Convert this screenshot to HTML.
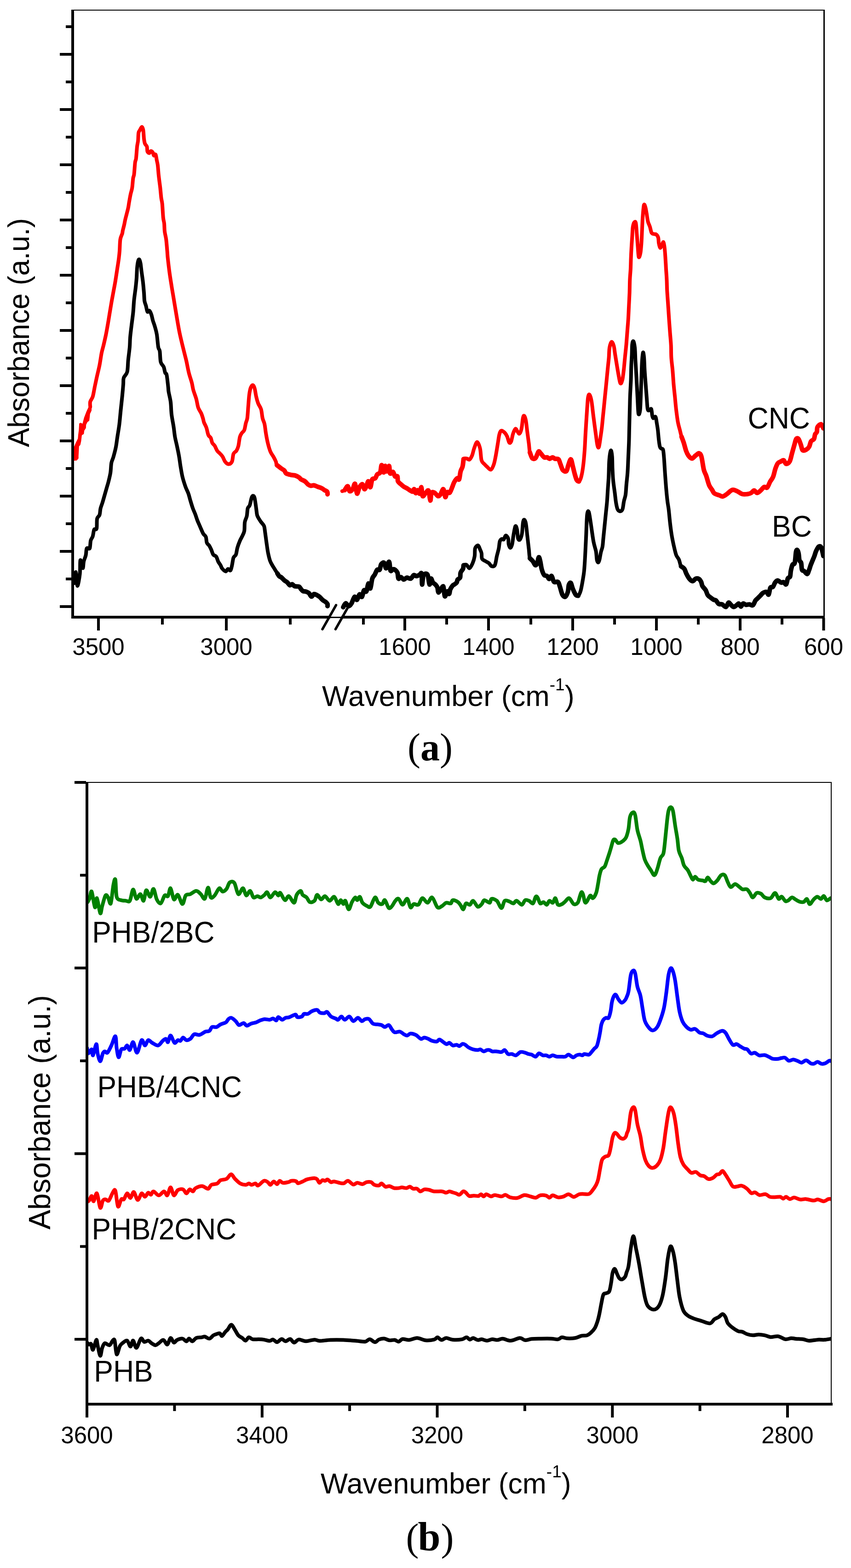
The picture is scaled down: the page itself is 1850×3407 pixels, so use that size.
<!DOCTYPE html><html><head><meta charset="utf-8"><title>FTIR spectra</title>
<style>html,body{margin:0;padding:0;background:#fff;}svg{display:block;}text{font-family:"Liberation Sans",Arial,sans-serif;fill:#000;}.cap{font-family:"Liberation Serif","Times New Roman",serif;}</style></head><body>
<svg width="1850" height="3407" viewBox="0 0 1850 3407">
<rect x="0" y="0" width="1850" height="3407" fill="#fff"/>
<defs><clipPath id="ca"><rect x="158" y="0" width="1633" height="1700"/></clipPath><clipPath id="cb"><rect x="189" y="1690" width="1618" height="1400"/></clipPath></defs>
<g clip-path="url(#ca)">
<polygon fill="#ff0000" points="192.2,885.0 187.9,894.3 182.9,907.2 179.3,920.7 175.7,918.6 172.2,920.0 171.4,934.3 170.0,945.0 169.3,952.9 165.0,961.5 160.0,972.9 157.9,985.0 157.9,999.0 161.0,1001.0 167.0,1000.5 170.7,996.0 170.7,990.8 171.4,978.6 171.8,970.0 174.7,966.5 176.4,958.6 177.9,945.8 182.2,942.9 183.2,935.8 186.8,930.0 187.2,922.9 190.0,917.2 194.0,914.3 195.0,906.4 195.7,899.3 199.0,892.2 199.3,883.6"/>
<path d="M196.2 884.0C196.2 882.1 195.2 876.5 196.1 872.9C197.0 869.3 200.1 866.5 201.5 862.2C202.9 857.9 203.9 851.2 204.7 847.2C205.5 843.2 205.4 843.1 206.5 838.0C207.6 832.9 209.4 824.1 211.1 816.6C212.8 809.1 214.9 801.2 216.5 793.0C218.1 784.8 219.4 774.4 220.8 767.3C222.2 760.2 223.5 757.0 225.1 750.2C226.7 743.4 228.8 734.5 230.4 726.6C232.0 718.7 233.4 710.1 234.7 703.0C235.9 695.9 236.7 691.2 237.9 683.7C239.2 676.2 240.8 666.1 242.2 657.9C243.6 649.7 245.1 642.2 246.5 634.4C247.9 626.5 249.4 619.4 250.8 610.8C252.2 602.2 253.8 591.1 255.1 582.9C256.4 574.7 257.5 567.7 258.3 561.4C259.1 555.1 259.5 551.9 260.0 545.0C260.5 538.1 260.5 526.5 261.5 520.2C262.5 513.9 264.9 510.5 265.8 507.3C266.7 504.1 266.2 504.1 266.9 500.9C267.6 497.7 269.2 491.9 270.1 488.0C271.0 484.1 271.3 481.2 272.2 477.3C273.1 473.4 274.4 468.8 275.5 464.5C276.6 460.2 277.8 455.9 278.7 451.6C279.6 447.3 279.9 443.7 280.8 438.7C281.7 433.7 282.9 426.6 284.0 421.6C285.1 416.6 286.3 414.4 287.2 408.7C288.1 403.0 288.7 392.3 289.4 387.3C290.1 382.3 290.8 384.4 291.5 378.7C292.2 373.0 293.0 358.6 293.7 352.9C294.4 347.2 295.1 350.1 295.8 344.4C296.5 338.7 297.3 325.0 298.0 318.6C298.7 312.2 299.6 310.8 300.1 305.8C300.6 300.8 300.5 292.5 301.2 288.6C301.9 284.7 303.2 284.4 304.4 282.2C305.6 280.0 307.1 275.7 308.3 275.7C309.5 275.7 310.5 277.9 311.3 282.2C312.1 286.5 312.4 296.5 313.0 301.5C313.6 306.5 314.0 309.3 315.1 312.2C316.2 315.1 318.5 315.8 319.4 318.6C320.3 321.5 319.6 327.0 320.5 329.3C321.4 331.6 323.6 332.8 324.8 332.6C326.1 332.4 326.8 328.5 328.0 328.3C329.2 328.1 331.2 329.9 332.3 331.5C333.4 333.1 333.4 337.2 334.4 337.9C335.4 338.6 337.2 334.0 338.3 335.8C339.4 337.6 340.1 344.7 340.9 348.6C341.7 352.5 342.4 354.4 343.0 359.4C343.6 364.4 344.2 373.3 344.7 378.7C345.2 384.1 345.6 386.5 346.2 391.5C346.8 396.5 347.7 402.3 348.4 408.7C349.1 415.1 349.8 424.4 350.5 430.1C351.2 435.8 352.0 435.9 352.7 443.0C353.4 450.1 354.1 465.9 354.8 473.0C355.5 480.1 356.5 480.9 357.0 485.9C357.5 490.9 357.3 497.4 358.0 503.1C358.7 508.8 360.3 513.2 361.2 520.2C362.1 527.2 362.9 538.1 363.5 545.0C364.1 551.9 363.9 553.3 364.8 561.4C365.7 569.5 367.3 583.6 368.7 593.6C370.1 603.6 371.6 612.6 373.0 621.5C374.4 630.4 375.9 638.6 377.3 647.2C378.7 655.8 380.2 664.4 381.6 673.0C383.0 681.6 384.5 690.5 385.9 698.7C387.3 706.9 388.6 714.4 390.2 722.3C391.8 730.2 393.8 738.4 395.6 745.9C397.4 753.4 399.3 760.9 400.9 767.3C402.5 773.7 403.6 777.4 405.2 784.5C406.8 791.6 408.6 802.3 410.6 810.2C412.6 818.1 415.4 825.5 417.0 831.7C418.6 837.9 418.6 841.4 420.2 847.2C421.8 853.0 424.8 860.1 426.6 866.5C428.4 872.9 429.1 880.5 430.9 885.8C432.7 891.0 435.6 894.0 437.4 898.0C439.2 902.0 440.5 906.7 441.5 910.0C442.5 913.3 442.3 914.8 443.5 918.0C444.7 921.2 447.0 924.5 448.6 929.0C450.2 933.5 451.3 941.3 452.9 945.1C454.5 948.9 456.8 948.7 458.2 951.6C459.6 954.5 460.0 959.4 461.4 962.3C462.8 965.1 465.0 965.9 466.8 968.7C468.6 971.6 470.2 976.5 472.2 979.4C474.2 982.3 476.6 983.8 478.6 985.9C480.6 988.0 482.2 989.4 484.0 992.3C485.8 995.1 487.2 1000.3 489.3 1003.0C491.4 1005.7 494.3 1008.4 496.8 1008.4C499.3 1008.4 502.5 1006.8 504.3 1003.0C506.1 999.2 506.0 989.8 507.6 985.9C509.2 982.0 512.2 982.3 514.0 979.4C515.8 976.5 517.0 973.7 518.3 968.7C519.5 963.7 520.2 954.0 521.5 949.4C522.8 944.8 524.2 943.3 525.8 940.8C527.4 938.3 529.7 938.0 531.1 934.4C532.5 930.8 533.3 923.7 534.4 919.4C535.5 915.1 536.7 914.8 537.6 908.7C538.5 902.6 539.0 891.5 539.7 882.9C540.4 874.3 541.0 864.0 541.9 857.2C542.8 850.4 543.8 845.6 545.1 842.2C546.5 838.8 548.6 836.4 550.0 836.8C551.4 837.1 552.6 840.2 553.7 844.3C554.9 848.4 555.6 856.1 556.9 861.5C558.1 866.9 559.4 871.9 561.2 876.5C563.0 881.1 566.0 884.0 567.6 889.4C569.2 894.8 569.5 903.4 570.8 908.7C572.0 914.1 573.9 915.8 575.1 921.5C576.4 927.2 577.0 935.9 578.3 943.0C579.5 950.1 581.0 958.0 582.6 964.4C584.2 970.8 586.0 977.0 588.0 981.6C590.0 986.2 592.4 988.7 594.4 992.3C596.4 995.9 598.5 1000.0 599.8 1003.0C601.0 1006.0 599.9 1008.0 601.9 1010.5C603.9 1013.0 608.9 1016.0 611.6 1018.0C614.3 1020.0 616.2 1020.5 618.0 1022.3C619.8 1024.1 619.8 1027.2 622.3 1028.8C624.8 1030.4 629.8 1031.3 633.0 1032.0C636.2 1032.7 638.7 1032.2 641.6 1033.1C644.5 1034.0 648.1 1035.9 650.2 1037.3C652.4 1038.7 652.4 1040.2 654.5 1041.6C656.6 1043.0 660.5 1044.1 663.0 1045.9C665.5 1047.7 667.4 1050.8 669.5 1052.4C671.6 1054.0 673.8 1055.2 675.9 1055.6C678.0 1055.9 679.8 1054.2 682.3 1054.5C684.8 1054.8 688.0 1056.6 690.9 1057.7C693.8 1058.8 697.0 1059.7 699.5 1060.9C702.0 1062.2 703.9 1064.0 705.9 1065.2C707.9 1066.5 710.3 1066.9 711.3 1068.4C712.3 1069.9 711.9 1073.1 712.0 1074.0" fill="none" stroke="#ff0000" stroke-width="8" stroke-linejoin="round" stroke-linecap="round"/>
<path d="M743.9 1067.2C744.8 1066.8 747.3 1066.9 749.3 1065.1C751.3 1063.3 753.9 1056.2 755.7 1056.5C757.5 1056.8 758.2 1066.1 760.0 1067.2C761.8 1068.3 764.5 1065.6 766.5 1062.9C768.5 1060.2 770.2 1049.5 771.8 1051.1C773.4 1052.7 774.5 1071.3 776.1 1072.6C777.7 1073.8 779.5 1062.0 781.5 1058.6C783.5 1055.2 786.1 1051.5 787.9 1052.2C789.7 1052.9 790.8 1062.2 792.2 1062.9C793.6 1063.6 795.1 1059.3 796.5 1056.5C797.9 1053.7 799.4 1045.5 800.8 1045.8C802.2 1046.1 803.7 1059.3 805.1 1058.6C806.5 1057.9 807.5 1044.7 809.3 1041.5C811.1 1038.3 814.0 1041.1 815.8 1039.3C817.6 1037.5 818.3 1032.9 820.1 1030.8C821.9 1028.7 824.9 1029.9 826.5 1026.5C828.1 1023.1 828.5 1010.4 829.7 1010.4C831.0 1010.4 832.8 1026.2 834.0 1026.5C835.2 1026.8 836.1 1012.9 837.2 1012.5C838.3 1012.1 839.0 1024.3 840.4 1024.3C841.8 1024.3 844.5 1011.8 845.8 1012.5C847.1 1013.2 846.6 1026.4 848.0 1028.6C849.4 1030.8 852.6 1024.3 854.4 1025.4C856.2 1026.5 857.1 1033.5 858.7 1035.1C860.3 1036.7 862.9 1033.3 864.0 1035.1C865.1 1036.9 863.9 1042.9 865.1 1045.8C866.4 1048.7 869.4 1050.2 871.5 1052.2C873.6 1054.2 875.9 1056.2 878.0 1057.6C880.1 1059.0 882.3 1059.5 884.4 1060.8C886.5 1062.0 888.6 1063.8 890.8 1065.1C892.9 1066.3 895.7 1068.7 897.3 1068.3C898.9 1067.9 899.4 1062.4 900.5 1062.9C901.6 1063.4 902.5 1071.1 903.7 1071.5C905.0 1071.9 906.6 1064.9 908.0 1065.1C909.4 1065.3 910.9 1073.7 912.3 1072.6C913.6 1071.5 915.0 1057.7 916.1 1058.6C917.2 1059.5 917.2 1075.8 918.7 1077.9C920.2 1080.1 923.1 1073.5 925.2 1071.5C927.4 1069.5 929.9 1063.5 931.6 1066.2C933.3 1068.9 934.3 1086.7 935.4 1087.6C936.5 1088.5 936.5 1074.4 938.0 1071.5C939.5 1068.6 942.2 1069.3 944.5 1070.4C946.8 1071.5 949.9 1077.2 952.0 1077.9C954.1 1078.6 955.3 1077.2 957.3 1074.7C959.3 1072.2 962.0 1062.0 963.8 1062.9C965.6 1063.8 966.6 1079.0 968.0 1080.1C969.4 1081.2 970.7 1071.0 972.3 1069.4C973.9 1067.8 975.9 1072.2 977.7 1070.4C979.5 1068.6 981.5 1062.3 983.1 1058.6C984.7 1054.8 985.5 1051.1 987.3 1047.9C989.1 1044.7 992.0 1040.4 993.8 1039.3C995.6 1038.2 996.9 1044.0 998.1 1041.5C999.4 1039.0 1000.0 1029.0 1001.3 1024.3C1002.5 1019.6 1004.5 1018.1 1005.6 1013.6C1006.7 1009.1 1006.1 1000.4 1007.7 997.5C1009.3 994.6 1013.1 996.3 1015.2 996.5C1017.4 996.7 1018.7 999.8 1020.6 998.6C1022.5 997.4 1024.7 993.4 1026.4 989.4C1028.1 985.4 1028.9 979.2 1030.7 974.4C1032.5 969.6 1035.1 960.4 1037.2 960.4C1039.3 960.4 1042.0 967.8 1043.6 974.4C1045.2 981.0 1045.2 994.4 1046.8 1000.1C1048.4 1005.8 1051.0 1006.2 1053.2 1008.7C1055.4 1011.2 1057.4 1013.1 1059.7 1015.1C1062.0 1017.1 1064.9 1021.6 1067.2 1020.5C1069.5 1019.4 1071.8 1013.9 1073.6 1008.7C1075.4 1003.5 1076.5 996.9 1077.9 989.4C1079.3 981.9 1081.0 971.2 1082.2 963.7C1083.5 956.2 1084.2 949.0 1085.4 944.4C1086.7 939.8 1087.7 936.5 1089.7 935.8C1091.7 935.1 1095.1 938.0 1097.2 940.1C1099.3 942.2 1101.0 945.0 1102.6 948.6C1104.2 952.2 1105.5 959.7 1106.9 961.5C1108.3 963.3 1109.7 962.6 1111.1 959.4C1112.5 956.2 1113.8 946.9 1115.4 942.2C1117.0 937.6 1119.2 932.2 1120.8 931.5C1122.4 930.8 1123.7 936.1 1125.1 937.9C1126.5 939.7 1128.0 943.3 1129.4 942.2C1130.8 941.1 1132.5 937.2 1133.7 931.5C1135.0 925.8 1135.9 912.5 1136.9 907.9C1137.9 903.2 1138.6 902.5 1139.7 903.6C1140.8 904.7 1142.2 908.2 1143.3 914.3C1144.4 920.4 1145.4 931.9 1146.5 940.1C1147.6 948.3 1148.8 956.6 1149.7 963.7C1150.6 970.9 1150.7 977.6 1151.9 983.0C1153.2 988.4 1155.2 993.7 1157.2 995.8C1159.2 997.9 1161.9 997.2 1163.7 995.8C1165.5 994.4 1166.8 989.7 1168.0 987.2C1169.2 984.7 1170.0 981.1 1171.2 980.8C1172.5 980.4 1173.5 983.0 1175.5 985.1C1177.5 987.2 1180.7 992.3 1183.0 993.7C1185.3 995.1 1187.4 993.2 1189.4 993.7C1191.4 994.2 1192.8 996.9 1194.8 996.9C1196.8 996.9 1199.2 993.7 1201.2 993.7C1203.2 993.7 1204.4 996.2 1206.6 996.9C1208.8 997.6 1212.1 996.0 1214.1 998.0C1216.1 1000.0 1216.8 1004.8 1218.4 1008.7C1220.0 1012.6 1221.6 1019.1 1223.7 1021.6C1225.8 1024.1 1229.2 1025.5 1231.2 1023.7C1233.2 1021.9 1233.9 1015.1 1235.5 1010.8C1237.1 1006.5 1239.3 997.6 1240.9 998.0C1242.5 998.4 1243.8 1007.6 1245.2 1013.0C1246.6 1018.4 1248.1 1025.1 1249.5 1030.1C1250.9 1035.1 1252.3 1040.3 1253.8 1043.0C1255.3 1045.7 1256.9 1047.3 1258.5 1046.2C1260.1 1045.1 1261.9 1042.1 1263.4 1036.6C1264.9 1031.1 1266.5 1022.6 1267.7 1013.0C1269.0 1003.4 1270.0 990.9 1270.9 978.7C1271.8 966.6 1272.1 955.1 1273.0 940.1C1273.9 925.1 1275.4 901.5 1276.3 888.6C1277.2 875.7 1277.5 868.1 1278.4 862.9C1279.3 857.7 1280.3 856.1 1281.6 857.5C1282.8 858.9 1284.5 863.4 1285.9 871.4C1287.3 879.4 1288.6 893.3 1290.2 905.8C1291.8 918.3 1294.2 936.1 1295.6 946.5C1297.0 956.9 1297.7 963.8 1298.8 967.9C1299.9 972.0 1300.8 974.4 1302.0 971.2C1303.2 968.0 1304.6 956.0 1305.7 948.7C1306.8 941.4 1307.8 934.4 1308.6 927.3C1309.4 920.1 1310.0 912.9 1310.7 905.8C1311.4 898.6 1312.2 891.5 1312.9 884.4C1313.6 877.3 1314.3 870.1 1315.0 863.0C1315.7 855.9 1316.5 848.6 1317.2 841.5C1317.9 834.4 1318.6 827.2 1319.3 820.1C1320.0 813.0 1320.7 805.8 1321.4 798.6C1322.1 791.5 1323.0 784.4 1323.6 777.2C1324.2 770.1 1324.0 761.4 1325.0 755.7C1326.0 750.0 1327.8 743.6 1329.3 742.9C1330.8 742.2 1333.0 747.0 1334.3 751.5C1335.6 756.0 1336.1 763.3 1337.2 770.0C1338.3 776.7 1339.5 784.4 1340.7 791.5C1341.9 798.6 1343.0 806.0 1344.3 812.9C1345.6 819.8 1347.2 830.8 1348.6 832.9C1350.0 835.0 1351.7 830.3 1352.9 825.8C1354.1 821.3 1354.8 813.9 1355.8 805.8C1356.8 797.7 1357.6 786.7 1358.6 777.2C1359.5 767.7 1360.7 757.9 1361.5 748.6C1362.3 739.3 1362.9 730.9 1363.6 721.6C1364.3 712.3 1365.2 702.5 1365.8 693.0C1366.4 683.5 1366.7 673.9 1367.2 664.4C1367.7 654.9 1368.2 645.3 1368.6 635.8C1368.9 626.3 1368.9 615.6 1369.3 607.3C1369.7 599.0 1370.4 592.9 1370.8 585.8C1371.2 578.6 1371.2 572.7 1371.5 564.4C1371.8 556.1 1372.4 544.1 1372.9 535.8C1373.4 527.4 1373.8 521.4 1374.3 514.3C1374.8 507.1 1375.0 498.1 1375.8 492.9C1376.6 487.7 1377.9 484.4 1379.0 483.0C1380.1 481.6 1381.3 480.3 1382.2 484.3C1383.1 488.3 1383.6 498.6 1384.3 507.2C1385.0 515.8 1385.8 527.2 1386.5 535.8C1387.2 544.4 1387.6 556.2 1388.6 558.6C1389.5 561.0 1391.2 555.1 1392.2 550.1C1393.2 545.1 1393.8 537.0 1394.4 528.6C1395.0 520.2 1395.3 509.5 1395.8 500.0C1396.3 490.5 1396.5 480.5 1397.2 471.4C1397.9 462.3 1398.8 449.1 1399.8 445.5C1400.8 441.9 1402.0 446.9 1403.0 450.0C1404.0 453.1 1404.9 459.1 1405.8 464.3C1406.7 469.6 1407.4 476.7 1408.6 481.5C1409.8 486.3 1411.6 488.8 1412.9 492.9C1414.2 496.9 1415.1 503.2 1416.5 505.8C1417.9 508.4 1419.8 508.0 1421.5 508.6C1423.2 509.2 1425.0 508.1 1426.5 509.3C1428.0 510.5 1429.8 512.6 1430.8 515.8C1431.8 519.0 1431.5 524.8 1432.2 528.6C1432.9 532.4 1434.0 537.9 1435.1 538.6C1436.2 539.3 1437.5 535.0 1438.7 532.9C1439.9 530.8 1441.2 525.3 1442.2 525.8C1443.2 526.3 1443.8 531.8 1444.4 535.8C1445.0 539.8 1445.3 544.1 1445.8 550.1C1446.3 556.1 1446.8 565.5 1447.2 571.5C1447.6 577.5 1447.6 579.8 1448.0 585.8C1448.4 591.8 1449.1 600.1 1449.4 607.3C1449.8 614.4 1449.8 621.6 1450.1 628.7C1450.4 635.8 1451.0 643.0 1451.5 650.1C1452.0 657.2 1452.5 664.5 1453.0 671.6C1453.5 678.8 1453.8 684.7 1454.4 693.0C1455.0 701.3 1455.8 712.1 1456.5 721.6C1457.2 731.1 1458.2 740.6 1458.7 749.9C1459.2 759.2 1458.8 767.9 1459.4 777.2C1460.0 786.5 1461.5 796.3 1462.3 805.8C1463.1 815.3 1463.6 824.9 1464.4 834.4C1465.2 843.9 1466.3 853.5 1467.3 863.0C1468.2 872.5 1469.0 882.5 1470.1 891.5C1471.2 900.5 1472.4 910.1 1473.7 917.3C1475.0 924.4 1476.7 929.2 1478.0 934.4C1479.3 939.6 1480.2 944.2 1481.6 948.7C1483.0 953.2 1484.6 956.5 1486.3 961.6C1488.0 966.8 1489.8 974.9 1491.5 979.6C1493.2 984.3 1494.5 987.1 1496.6 989.9C1498.7 992.7 1501.7 996.3 1504.3 996.3C1506.9 996.3 1509.5 991.8 1512.1 989.9C1514.7 988.0 1517.7 984.4 1519.8 984.8C1521.9 985.2 1523.2 986.5 1524.9 992.5C1526.6 998.5 1528.4 1013.9 1530.1 1020.8C1531.8 1027.6 1533.3 1028.0 1535.2 1033.6C1537.1 1039.2 1539.4 1049.0 1541.6 1054.2C1543.8 1059.4 1546.2 1061.5 1548.1 1064.5C1550.0 1067.5 1550.6 1070.4 1553.2 1072.3C1555.8 1074.2 1560.5 1075.0 1563.5 1076.1C1566.5 1077.2 1568.4 1079.1 1571.2 1078.7C1574.0 1078.3 1576.8 1075.9 1580.2 1073.5C1583.6 1071.1 1588.2 1065.6 1591.8 1064.5C1595.4 1063.4 1598.4 1065.6 1602.1 1067.1C1605.8 1068.6 1609.8 1072.4 1613.7 1073.5C1617.6 1074.6 1622.1 1073.9 1625.3 1073.5C1628.5 1073.1 1630.7 1072.3 1633.0 1071.0C1635.3 1069.7 1637.2 1065.8 1639.4 1065.8C1641.6 1065.8 1643.5 1071.0 1645.9 1071.0C1648.3 1071.0 1651.0 1068.0 1653.6 1065.8C1656.2 1063.6 1658.9 1059.2 1661.3 1058.1C1663.7 1057.0 1665.5 1061.3 1667.7 1059.4C1669.9 1057.5 1672.1 1050.4 1674.2 1046.5C1676.3 1042.6 1678.7 1040.9 1680.6 1036.2C1682.5 1031.5 1684.0 1023.1 1685.7 1018.2C1687.4 1013.3 1689.0 1009.2 1690.9 1006.6C1692.8 1004.0 1695.2 1003.9 1697.3 1002.8C1699.4 1001.7 1701.9 999.4 1703.8 1000.2C1705.7 1001.1 1706.8 1007.5 1708.9 1007.9C1711.0 1008.3 1714.4 1006.6 1716.6 1002.8C1718.8 998.9 1720.1 990.8 1721.8 984.8C1723.5 978.8 1725.4 971.9 1726.9 966.7C1728.4 961.6 1729.3 956.0 1730.8 953.9C1732.3 951.8 1734.2 951.8 1735.9 953.9C1737.6 956.0 1739.6 962.6 1741.1 966.7C1742.6 970.8 1743.0 976.6 1744.9 978.3C1746.8 980.0 1750.2 978.3 1752.6 977.0C1755.0 975.7 1757.4 973.6 1759.1 970.6C1760.8 967.6 1761.3 961.8 1763.0 959.0C1764.7 956.2 1767.9 956.5 1769.4 953.9C1770.9 951.3 1770.9 946.2 1772.0 943.6C1773.1 941.0 1775.0 941.0 1775.8 938.4C1776.6 935.8 1775.6 930.9 1777.1 928.1C1778.6 925.3 1782.6 921.3 1784.8 921.7C1787.0 922.1 1789.1 929.2 1790.0 930.7" fill="none" stroke="#ff0000" stroke-width="8" stroke-linejoin="round" stroke-linecap="round"/>
<path d="M159.6 1258.0C160.0 1259.4 160.9 1269.1 161.8 1266.6C162.7 1264.1 163.9 1241.9 165.0 1243.0C166.1 1244.1 166.8 1272.3 168.2 1273.0C169.6 1273.7 172.5 1256.6 173.6 1247.3C174.7 1238.0 173.6 1219.3 174.7 1217.2C175.8 1215.1 178.8 1234.0 180.0 1234.4C181.2 1234.8 181.1 1224.1 182.2 1219.4C183.3 1214.8 185.4 1211.2 186.5 1206.5C187.6 1201.8 187.2 1194.0 188.6 1191.5C190.0 1189.0 193.6 1194.3 195.0 1191.5C196.4 1188.7 196.1 1178.7 197.2 1174.4C198.3 1170.1 200.2 1169.7 201.5 1165.8C202.8 1161.9 203.3 1153.7 204.7 1150.8C206.1 1147.9 208.9 1152.5 210.0 1148.6C211.1 1144.7 210.0 1132.2 211.1 1127.2C212.2 1122.2 215.2 1122.4 216.5 1118.6C217.8 1114.8 217.5 1109.0 218.6 1104.5C219.7 1100.0 221.5 1096.2 222.9 1091.6C224.3 1086.9 225.8 1081.6 227.2 1076.6C228.6 1071.6 230.1 1066.6 231.5 1061.6C232.9 1056.6 234.4 1052.3 235.8 1046.6C237.2 1040.9 239.0 1034.1 240.1 1027.3C241.2 1020.5 241.1 1011.5 242.2 1005.8C243.3 1000.1 244.9 998.7 246.5 993.0C248.1 987.3 250.5 978.6 251.9 971.5C253.3 964.4 253.8 958.3 255.1 950.1C256.3 941.9 258.1 932.2 259.4 922.2C260.6 912.2 261.5 900.4 262.6 890.0C263.7 879.6 264.9 869.2 265.8 860.0C266.7 850.8 267.5 841.5 268.0 835.0C268.5 828.5 267.6 825.4 269.0 820.9C270.4 816.4 274.9 814.5 276.5 808.1C278.1 801.7 277.8 791.2 278.7 782.3C279.6 773.4 281.2 762.7 281.9 754.5C282.6 746.3 282.3 741.2 283.0 733.0C283.7 724.8 285.1 714.0 286.2 705.1C287.3 696.2 288.5 688.3 289.4 679.4C290.3 670.5 290.6 660.4 291.5 651.5C292.4 642.6 293.9 633.7 294.8 625.8C295.7 617.9 296.4 611.4 296.9 604.3C297.4 597.1 297.5 589.0 298.0 582.9C298.5 576.8 299.3 571.1 300.1 567.9C300.9 564.7 301.8 562.9 302.7 563.6C303.6 564.3 304.7 567.9 305.5 572.2C306.3 576.5 306.7 582.5 307.6 589.3C308.5 596.1 309.9 605.0 310.8 612.9C311.7 620.8 312.4 629.7 313.0 636.5C313.6 643.3 313.4 649.1 314.1 653.7C314.8 658.4 316.2 660.5 317.3 664.4C318.4 668.3 319.2 675.5 320.5 677.3C321.8 679.1 323.4 674.0 324.8 675.1C326.2 676.2 327.9 680.1 329.1 683.7C330.4 687.3 331.1 692.2 332.3 696.5C333.6 700.8 335.2 704.4 336.6 709.4C338.0 714.4 339.6 719.1 340.9 726.6C342.1 734.1 343.0 748.4 344.1 754.5C345.2 760.6 346.4 757.6 347.3 763.0C348.2 768.4 348.0 780.9 349.4 786.6C350.8 792.3 354.3 793.4 355.9 797.3C357.5 801.2 358.0 807.3 359.1 810.2C360.2 813.1 361.2 809.5 362.3 814.5C363.4 819.5 364.8 833.9 365.5 840.0C366.2 846.1 365.7 845.9 366.6 851.4C367.5 856.9 369.8 864.7 370.9 872.9C372.0 881.1 371.9 891.9 373.0 900.8C374.1 909.7 376.1 918.3 377.3 926.5C378.6 934.7 379.2 943.0 380.5 950.1C381.8 957.2 383.4 962.6 384.8 969.4C386.2 976.2 387.9 983.6 389.1 990.8C390.4 997.9 391.1 1004.8 392.3 1012.3C393.6 1019.8 394.8 1028.4 396.6 1035.9C398.4 1043.4 401.0 1051.2 403.1 1057.3C405.2 1063.4 407.7 1067.3 409.5 1072.3C411.3 1077.3 412.2 1081.9 413.8 1087.3C415.4 1092.7 417.4 1099.5 419.2 1104.5C421.0 1109.5 422.9 1113.2 424.5 1117.4C426.1 1121.7 427.4 1126.2 428.8 1130.0C430.2 1133.8 431.7 1136.7 433.1 1140.0C434.5 1143.3 435.9 1146.7 437.4 1150.0C438.9 1153.3 440.4 1157.3 442.1 1160.1C443.8 1162.8 446.2 1163.3 447.5 1166.5C448.8 1169.7 448.4 1176.2 449.7 1179.4C450.9 1182.6 453.4 1183.3 455.0 1185.8C456.6 1188.3 457.9 1191.2 459.3 1194.4C460.7 1197.6 461.8 1202.6 463.6 1205.1C465.4 1207.6 468.2 1206.9 470.0 1209.4C471.8 1211.9 472.7 1216.9 474.3 1220.1C475.9 1223.3 478.3 1226.2 479.7 1228.7C481.1 1231.2 481.1 1233.1 482.9 1235.2C484.7 1237.3 488.2 1241.4 490.4 1241.6C492.5 1241.8 494.0 1236.6 495.8 1236.2C497.6 1235.8 499.7 1240.7 501.1 1239.4C502.5 1238.2 503.2 1233.3 504.3 1228.7C505.4 1224.1 506.2 1215.5 507.6 1211.6C509.0 1207.7 511.5 1208.7 512.9 1205.1C514.3 1201.5 514.7 1195.1 516.1 1190.1C517.5 1185.1 519.7 1179.4 521.5 1175.1C523.3 1170.8 525.3 1168.0 526.9 1164.4C528.5 1160.8 530.2 1158.7 531.1 1153.7C532.0 1148.7 531.3 1139.8 532.2 1134.4C533.1 1129.0 535.4 1126.5 536.5 1121.5C537.6 1116.5 537.5 1108.2 538.6 1104.3C539.7 1100.4 541.5 1101.8 542.9 1097.9C544.3 1094.0 545.8 1084.1 547.2 1080.7C548.6 1077.3 550.0 1077.1 551.1 1077.5C552.2 1077.9 552.7 1078.4 553.7 1082.9C554.7 1087.4 556.0 1098.2 556.9 1104.3C557.8 1110.4 557.9 1115.4 559.0 1119.3C560.1 1123.2 561.9 1125.4 563.3 1127.9C564.7 1130.4 565.8 1131.9 567.6 1134.4C569.4 1136.9 572.6 1139.3 574.0 1142.9C575.4 1146.5 575.3 1149.7 576.2 1155.8C577.1 1161.9 578.3 1171.9 579.4 1179.4C580.5 1186.9 581.4 1194.4 582.6 1200.8C583.9 1207.2 585.3 1213.3 586.9 1218.0C588.5 1222.7 590.5 1225.5 592.3 1228.7C594.1 1231.9 595.8 1234.4 597.6 1237.3C599.4 1240.2 601.4 1243.4 603.0 1245.9C604.6 1248.4 605.9 1250.9 607.3 1252.3C608.7 1253.7 609.8 1253.1 611.6 1254.5C613.4 1255.9 615.9 1259.1 618.0 1260.9C620.1 1262.7 622.4 1263.4 624.4 1265.2C626.4 1267.0 628.0 1270.9 629.8 1271.6C631.6 1272.3 633.4 1269.1 635.2 1269.5C637.0 1269.9 638.0 1272.9 640.5 1273.8C643.0 1274.7 647.9 1273.7 650.2 1274.8C652.5 1275.9 653.1 1278.6 654.5 1280.2C655.9 1281.8 656.9 1283.6 658.7 1284.5C660.5 1285.4 663.1 1284.8 665.2 1285.5C667.4 1286.2 669.6 1287.0 671.6 1288.8C673.6 1290.6 675.2 1295.9 677.0 1296.3C678.8 1296.7 680.3 1291.5 682.3 1290.9C684.3 1290.4 686.6 1291.9 688.8 1293.0C690.9 1294.1 693.1 1295.5 695.2 1297.3C697.3 1299.1 699.5 1302.0 701.6 1303.8C703.8 1305.6 706.4 1306.7 708.1 1308.1C709.8 1309.5 711.2 1310.9 711.9 1312.4C712.5 1313.9 712.0 1316.2 712.0 1317.0" fill="none" stroke="#000" stroke-width="8" stroke-linejoin="round" stroke-linecap="round"/>
<path d="M746.1 1319.4C747.0 1318.0 749.4 1311.2 751.4 1310.8C753.4 1310.4 755.8 1317.3 757.9 1317.3C760.0 1317.3 762.2 1314.2 764.3 1310.8C766.4 1307.4 768.7 1298.2 770.7 1296.9C772.7 1295.7 774.3 1304.2 776.1 1303.3C777.9 1302.4 779.7 1292.6 781.5 1291.5C783.3 1290.4 785.2 1298.3 786.8 1296.9C788.4 1295.5 789.5 1284.9 791.1 1282.9C792.7 1280.9 794.9 1287.6 796.5 1285.1C798.1 1282.6 799.4 1269.0 800.8 1267.9C802.2 1266.8 803.7 1280.4 805.1 1278.6C806.5 1276.8 807.7 1262.2 809.3 1257.2C810.9 1252.2 812.9 1251.8 814.7 1248.6C816.5 1245.4 818.3 1239.7 820.1 1237.9C821.9 1236.1 824.0 1239.9 825.4 1237.9C826.8 1235.9 827.0 1228.6 828.6 1226.1C830.2 1223.6 833.3 1221.5 835.1 1222.9C836.9 1224.3 837.6 1235.1 839.4 1234.7C841.2 1234.3 844.2 1219.8 845.8 1220.7C847.4 1221.6 847.6 1237.3 849.0 1240.0C850.4 1242.7 852.8 1237.1 854.4 1236.8C856.0 1236.5 857.1 1236.7 858.7 1237.9C860.3 1239.2 862.8 1241.1 864.0 1244.3C865.2 1247.5 865.0 1255.6 866.2 1257.2C867.5 1258.8 869.5 1253.7 871.5 1254.0C873.5 1254.3 875.9 1259.1 878.0 1259.3C880.1 1259.5 881.9 1255.4 884.4 1255.1C886.9 1254.8 890.5 1258.1 893.0 1257.2C895.5 1256.3 897.3 1250.6 899.4 1249.7C901.5 1248.8 903.6 1252.0 905.8 1251.8C907.9 1251.6 910.5 1249.5 912.3 1248.6C914.1 1247.7 915.7 1242.9 916.6 1246.5C917.5 1250.1 916.9 1269.6 917.6 1270.1C918.3 1270.6 918.9 1253.3 920.9 1249.7C922.9 1246.1 927.3 1245.2 929.4 1248.6C931.5 1252.0 932.4 1268.7 933.7 1270.1C935.0 1271.5 935.8 1257.9 937.0 1257.2C938.2 1256.5 939.6 1263.7 941.2 1265.8C942.8 1267.9 945.0 1268.3 946.6 1270.1C948.2 1271.9 949.8 1273.7 950.9 1276.5C952.0 1279.3 951.8 1286.5 953.0 1287.2C954.2 1287.9 956.6 1282.9 958.4 1280.8C960.2 1278.7 962.4 1271.9 963.8 1274.4C965.2 1276.9 965.6 1294.0 967.0 1295.8C968.4 1297.6 970.7 1286.0 972.3 1285.1C973.9 1284.2 975.5 1291.1 976.6 1290.4C977.7 1289.7 977.5 1283.8 978.8 1280.8C980.0 1277.8 982.7 1274.0 984.1 1272.2C985.5 1270.4 986.0 1271.2 987.4 1270.1C988.8 1269.0 991.5 1267.6 992.7 1265.8C994.0 1264.0 993.6 1261.1 994.9 1259.3C996.1 1257.5 999.1 1257.6 1000.2 1255.1C1001.3 1252.6 1000.2 1247.5 1001.3 1244.3C1002.4 1241.1 1005.5 1238.5 1006.6 1235.8C1007.7 1233.1 1006.4 1229.7 1007.7 1228.3C1009.0 1226.9 1012.1 1226.1 1014.2 1227.2C1016.4 1228.3 1018.4 1235.3 1020.6 1234.7C1022.8 1234.1 1025.6 1228.0 1027.5 1223.7C1029.4 1219.4 1030.9 1214.1 1031.8 1208.7C1032.7 1203.3 1031.7 1195.4 1032.9 1191.5C1034.2 1187.6 1037.5 1184.7 1039.3 1185.1C1041.1 1185.5 1042.3 1190.8 1043.6 1193.7C1044.8 1196.6 1046.1 1198.8 1046.8 1202.2C1047.5 1205.6 1046.5 1211.1 1047.9 1214.0C1049.3 1216.9 1052.9 1217.8 1055.4 1219.4C1057.9 1221.0 1060.8 1221.9 1062.9 1223.7C1065.1 1225.5 1066.2 1229.4 1068.3 1230.1C1070.4 1230.8 1073.8 1231.6 1075.8 1228.0C1077.8 1224.4 1078.6 1214.8 1080.0 1208.7C1081.4 1202.6 1083.2 1196.9 1084.3 1191.5C1085.4 1186.1 1085.4 1179.9 1086.5 1176.5C1087.6 1173.1 1089.4 1171.8 1090.8 1171.1C1092.2 1170.4 1093.7 1173.5 1095.1 1172.2C1096.5 1171.0 1097.7 1163.9 1099.3 1163.6C1100.9 1163.2 1103.6 1166.9 1104.7 1170.1C1105.8 1173.3 1105.0 1179.5 1105.8 1182.9C1106.6 1186.3 1108.3 1190.4 1109.6 1190.4C1110.8 1190.4 1112.1 1187.7 1113.3 1182.9C1114.5 1178.1 1115.3 1168.1 1116.5 1161.5C1117.7 1154.9 1119.2 1145.1 1120.4 1143.3C1121.7 1141.5 1123.0 1146.3 1124.0 1150.8C1125.0 1155.3 1125.1 1166.5 1126.2 1170.1C1127.3 1173.7 1129.0 1174.0 1130.4 1172.2C1131.8 1170.4 1133.6 1165.4 1134.7 1159.3C1135.8 1153.2 1136.1 1140.8 1136.9 1135.8C1137.7 1130.8 1138.6 1128.9 1139.7 1129.3C1140.8 1129.7 1142.2 1131.8 1143.3 1137.9C1144.4 1144.0 1145.4 1156.5 1146.5 1165.8C1147.6 1175.1 1148.8 1185.8 1149.7 1193.7C1150.6 1201.6 1150.5 1208.7 1151.9 1213.0C1153.3 1217.3 1156.3 1216.9 1158.3 1219.4C1160.3 1221.9 1162.1 1227.3 1163.7 1228.0C1165.3 1228.7 1166.8 1226.6 1168.0 1223.7C1169.2 1220.8 1170.1 1211.5 1171.2 1210.8C1172.3 1210.1 1173.3 1215.1 1174.4 1219.4C1175.5 1223.7 1176.2 1231.5 1177.6 1236.5C1179.0 1241.5 1181.0 1246.9 1183.0 1249.4C1185.0 1251.9 1187.6 1250.2 1189.4 1251.6C1191.2 1253.0 1192.1 1258.0 1193.7 1258.0C1195.3 1258.0 1197.3 1250.5 1199.1 1251.6C1200.9 1252.7 1202.1 1262.3 1204.4 1264.4C1206.7 1266.5 1210.8 1262.6 1213.0 1264.4C1215.2 1266.2 1215.7 1270.6 1217.3 1275.2C1218.9 1279.8 1220.7 1288.7 1222.7 1292.3C1224.7 1295.9 1227.1 1297.7 1229.1 1296.6C1231.1 1295.5 1233.2 1290.2 1234.5 1285.9C1235.8 1281.6 1235.5 1274.1 1236.6 1270.9C1237.7 1267.7 1239.5 1265.2 1240.9 1266.6C1242.3 1268.0 1243.4 1275.1 1245.2 1279.4C1247.0 1283.7 1249.6 1289.8 1251.6 1292.3C1253.6 1294.8 1255.2 1295.9 1257.0 1294.5C1258.8 1293.1 1260.7 1289.1 1262.3 1283.7C1263.9 1278.3 1265.3 1269.5 1266.6 1262.3C1267.8 1255.1 1268.9 1249.7 1269.8 1240.8C1270.7 1231.9 1271.3 1221.2 1272.0 1208.7C1272.7 1196.2 1273.4 1180.8 1274.1 1165.8C1274.8 1150.8 1275.3 1127.5 1276.3 1118.6C1277.3 1109.7 1278.7 1109.7 1279.9 1112.2C1281.2 1114.7 1282.1 1122.9 1283.8 1133.6C1285.5 1144.3 1288.2 1165.8 1290.2 1176.5C1292.2 1187.2 1294.3 1191.1 1295.6 1197.9C1296.8 1204.7 1296.8 1213.2 1297.7 1217.2C1298.6 1221.2 1299.8 1222.4 1300.8 1222.0C1301.8 1221.6 1302.6 1218.7 1303.5 1215.0C1304.4 1211.3 1305.2 1204.7 1306.3 1200.1C1307.3 1195.5 1308.9 1192.6 1309.8 1187.6C1310.7 1182.5 1310.8 1177.2 1311.6 1169.8C1312.3 1162.4 1313.4 1151.9 1314.3 1143.0C1315.2 1134.1 1316.1 1125.2 1317.0 1116.2C1317.9 1107.2 1319.0 1098.2 1319.7 1089.3C1320.4 1080.3 1320.8 1071.4 1321.4 1062.5C1322.0 1053.6 1322.7 1046.1 1323.2 1035.7C1323.7 1025.3 1323.7 1009.5 1324.5 1000.0C1325.3 990.5 1326.9 980.2 1327.9 978.8C1328.9 977.4 1330.1 985.1 1330.7 991.6C1331.3 998.1 1331.1 1009.0 1331.5 1017.9C1331.9 1026.8 1332.2 1035.8 1333.1 1044.7C1333.9 1053.6 1335.6 1063.5 1336.6 1071.5C1337.6 1079.5 1338.2 1087.0 1339.3 1092.9C1340.3 1098.9 1341.3 1104.2 1342.9 1107.2C1344.5 1110.2 1347.3 1111.1 1349.1 1110.8C1350.9 1110.5 1352.4 1109.0 1353.6 1105.4C1354.8 1101.8 1355.2 1094.3 1356.3 1089.3C1357.3 1084.2 1359.0 1081.0 1359.9 1075.1C1360.8 1069.1 1361.0 1061.6 1361.7 1053.6C1362.4 1045.5 1363.6 1036.6 1364.3 1026.8C1365.0 1017.0 1365.3 1005.6 1365.8 995.0C1366.3 984.4 1366.8 973.1 1367.2 963.0C1367.6 952.9 1367.7 943.9 1367.9 934.4C1368.1 924.9 1368.4 915.3 1368.6 905.8C1368.8 896.3 1369.1 885.6 1369.3 877.3C1369.5 869.0 1369.6 864.1 1370.0 855.8C1370.4 847.4 1371.1 836.7 1371.5 827.2C1371.9 817.7 1371.9 808.1 1372.2 798.6C1372.5 789.1 1373.2 778.3 1373.6 770.0C1373.9 761.7 1373.8 753.4 1374.3 748.6C1374.8 743.8 1375.9 740.2 1376.9 741.4C1377.9 742.6 1379.3 748.6 1380.1 755.7C1380.9 762.9 1380.9 773.6 1381.5 784.3C1382.1 795.0 1382.9 807.0 1383.6 820.1C1384.3 833.2 1385.1 849.9 1385.8 863.0C1386.5 876.1 1387.0 894.0 1387.9 898.7C1388.9 903.5 1390.7 897.5 1391.5 891.5C1392.3 885.5 1392.4 874.9 1392.9 863.0C1393.4 851.1 1393.9 833.2 1394.4 820.1C1394.9 807.0 1395.2 793.4 1395.8 784.3C1396.4 775.2 1397.2 766.9 1397.9 765.7C1398.6 764.5 1399.5 770.5 1400.1 777.2C1400.7 783.9 1400.9 796.3 1401.5 805.8C1402.1 815.3 1402.9 824.9 1403.6 834.4C1404.3 843.9 1405.1 854.0 1405.8 863.0C1406.5 872.0 1407.0 884.0 1407.9 888.7C1408.9 893.5 1410.2 891.5 1411.5 891.5C1412.8 891.5 1414.7 886.8 1415.8 888.7C1416.9 890.6 1417.2 899.7 1417.9 903.0C1418.6 906.3 1418.9 908.2 1420.1 908.7C1421.3 909.2 1423.8 903.9 1425.1 905.8C1426.4 907.7 1427.1 915.3 1427.9 920.1C1428.7 924.9 1429.4 928.4 1430.1 934.4C1430.8 940.4 1431.5 949.9 1432.2 955.9C1432.9 961.9 1433.6 967.1 1434.4 970.2C1435.2 973.3 1436.0 973.3 1437.2 974.5C1438.4 975.7 1440.5 973.9 1441.5 977.3C1442.5 980.7 1442.8 986.8 1443.5 995.0C1444.2 1003.2 1444.8 1015.5 1445.6 1026.8C1446.4 1038.0 1447.4 1052.1 1448.3 1062.5C1449.2 1072.9 1450.1 1081.8 1451.0 1089.3C1451.9 1096.8 1452.8 1099.8 1453.7 1107.2C1454.6 1114.7 1455.4 1125.1 1456.4 1134.0C1457.4 1142.9 1458.6 1152.5 1459.9 1160.8C1461.2 1169.1 1462.8 1176.6 1464.4 1184.1C1466.1 1191.5 1467.9 1200.2 1469.8 1205.5C1471.7 1210.8 1474.2 1212.0 1476.0 1216.2C1477.8 1220.4 1478.6 1227.2 1480.5 1230.5C1482.4 1233.8 1485.7 1233.2 1487.6 1235.9C1489.5 1238.6 1490.3 1243.0 1492.1 1246.6C1493.9 1250.2 1496.2 1254.6 1498.4 1257.3C1500.6 1260.0 1503.1 1262.7 1505.5 1262.7C1507.9 1262.7 1510.3 1258.0 1512.7 1257.3C1515.1 1256.5 1517.9 1257.0 1519.8 1258.2C1521.7 1259.4 1523.1 1262.0 1524.3 1264.5C1525.5 1267.0 1525.4 1270.4 1527.0 1273.4C1528.6 1276.4 1532.2 1279.0 1534.1 1282.3C1536.0 1285.6 1536.8 1290.4 1538.6 1293.1C1540.4 1295.8 1542.7 1296.8 1544.8 1298.4C1546.9 1300.1 1549.2 1301.9 1551.2 1303.0C1553.2 1304.1 1554.9 1303.4 1556.7 1304.9C1558.5 1306.5 1560.1 1310.9 1562.3 1312.3C1564.5 1313.7 1567.1 1312.1 1569.7 1313.2C1572.3 1314.3 1575.8 1319.4 1578.1 1318.8C1580.4 1318.2 1582.0 1310.4 1583.7 1309.5C1585.4 1308.6 1586.5 1311.7 1588.3 1313.2C1590.1 1314.8 1592.6 1318.5 1594.8 1318.8C1597.0 1319.1 1599.4 1316.3 1601.3 1315.1C1603.2 1313.9 1604.5 1310.9 1606.0 1311.4C1607.5 1311.9 1609.0 1317.9 1610.6 1317.9C1612.1 1317.9 1613.4 1312.0 1615.3 1311.4C1617.2 1310.8 1619.5 1313.9 1621.8 1314.2C1624.1 1314.5 1626.7 1313.1 1629.2 1313.2C1631.7 1313.3 1634.4 1316.5 1636.6 1315.1C1638.8 1313.7 1640.5 1307.4 1642.2 1304.9C1643.9 1302.4 1645.0 1302.1 1646.9 1300.2C1648.8 1298.3 1651.4 1295.7 1653.4 1293.7C1655.4 1291.7 1656.7 1289.3 1658.9 1288.1C1661.1 1286.9 1664.4 1285.7 1666.4 1286.3C1668.4 1286.9 1669.6 1293.5 1671.0 1291.9C1672.4 1290.4 1673.2 1279.8 1674.7 1277.0C1676.2 1274.2 1678.6 1277.0 1680.3 1275.1C1682.0 1273.2 1683.3 1268.1 1685.0 1265.8C1686.7 1263.5 1688.3 1261.2 1690.5 1261.2C1692.7 1261.2 1695.8 1265.2 1698.0 1265.8C1700.2 1266.4 1701.7 1264.3 1703.5 1264.9C1705.3 1265.5 1707.5 1271.0 1709.1 1269.6C1710.6 1268.2 1711.4 1259.3 1712.8 1256.5C1714.2 1253.7 1716.4 1255.6 1717.5 1252.8C1718.6 1250.0 1718.4 1244.1 1719.3 1239.8C1720.2 1235.5 1721.6 1229.6 1723.0 1226.8C1724.4 1224.0 1726.5 1227.8 1727.7 1223.1C1729.0 1218.4 1729.6 1203.6 1730.5 1198.9C1731.4 1194.2 1732.4 1194.6 1733.3 1195.2C1734.2 1195.8 1735.3 1199.0 1736.1 1202.7C1736.9 1206.4 1737.0 1214.1 1737.9 1217.5C1738.8 1220.9 1740.7 1219.7 1741.6 1223.1C1742.5 1226.5 1742.4 1235.0 1743.5 1238.0C1744.6 1241.0 1746.2 1239.2 1748.1 1240.8C1749.9 1242.3 1752.9 1247.5 1754.6 1247.3C1756.3 1247.1 1757.2 1242.9 1758.4 1239.8C1759.7 1236.7 1760.9 1232.1 1762.1 1228.7C1763.3 1225.3 1764.4 1222.8 1765.8 1219.4C1767.2 1216.0 1769.0 1211.9 1770.4 1208.2C1771.8 1204.5 1772.7 1200.5 1774.2 1197.1C1775.8 1193.7 1777.9 1189.0 1779.7 1187.8C1781.5 1186.5 1783.6 1186.2 1785.3 1189.6C1787.0 1193.0 1789.2 1205.1 1790.0 1208.2" fill="none" stroke="#000" stroke-width="8" stroke-linejoin="round" stroke-linecap="round"/>
<path d="M601.9 1010.5C603.5 1011.8 608.9 1016.0 611.6 1018.0C614.3 1020.0 616.2 1020.5 618.0 1022.3C619.8 1024.1 619.8 1027.2 622.3 1028.8C624.8 1030.4 629.8 1031.3 633.0 1032.0C636.2 1032.7 638.7 1032.2 641.6 1033.1C644.5 1034.0 648.1 1035.9 650.2 1037.3C652.4 1038.7 652.4 1040.2 654.5 1041.6C656.6 1043.0 660.5 1044.1 663.0 1045.9C665.5 1047.7 667.4 1050.8 669.5 1052.4C671.6 1054.0 673.8 1055.2 675.9 1055.6C678.0 1055.9 679.8 1054.2 682.3 1054.5C684.8 1054.8 688.0 1056.6 690.9 1057.7C693.8 1058.8 697.0 1059.7 699.5 1060.9C702.0 1062.2 703.9 1064.0 705.9 1065.2C707.9 1066.5 710.3 1066.9 711.3 1068.4C712.3 1069.9 711.9 1073.1 712.0 1074.0" fill="none" stroke="#ff0000" stroke-width="10" stroke-linejoin="round" stroke-linecap="round"/>
<path d="M603.0 1245.9C603.7 1247.0 605.9 1250.9 607.3 1252.3C608.7 1253.7 609.8 1253.1 611.6 1254.5C613.4 1255.9 615.9 1259.1 618.0 1260.9C620.1 1262.7 622.4 1263.4 624.4 1265.2C626.4 1267.0 628.0 1270.9 629.8 1271.6C631.6 1272.3 633.4 1269.1 635.2 1269.5C637.0 1269.9 638.0 1272.9 640.5 1273.8C643.0 1274.7 647.9 1273.7 650.2 1274.8C652.5 1275.9 653.1 1278.6 654.5 1280.2C655.9 1281.8 656.9 1283.6 658.7 1284.5C660.5 1285.4 663.1 1284.8 665.2 1285.5C667.4 1286.2 669.6 1287.0 671.6 1288.8C673.6 1290.6 675.2 1295.9 677.0 1296.3C678.8 1296.7 680.3 1291.5 682.3 1290.9C684.3 1290.4 686.6 1291.9 688.8 1293.0C690.9 1294.1 693.1 1295.5 695.2 1297.3C697.3 1299.1 699.5 1302.0 701.6 1303.8C703.8 1305.6 706.4 1306.7 708.1 1308.1C709.8 1309.5 711.2 1310.9 711.9 1312.4C712.5 1313.9 712.0 1316.2 712.0 1317.0" fill="none" stroke="#000" stroke-width="10" stroke-linejoin="round" stroke-linecap="round"/>
<path d="M749.3 1065.1C750.4 1063.7 753.9 1056.2 755.7 1056.5C757.5 1056.8 758.2 1066.1 760.0 1067.2C761.8 1068.3 764.5 1065.6 766.5 1062.9C768.5 1060.2 770.2 1049.5 771.8 1051.1C773.4 1052.7 774.5 1071.3 776.1 1072.6C777.7 1073.8 779.5 1062.0 781.5 1058.6C783.5 1055.2 786.1 1051.5 787.9 1052.2C789.7 1052.9 790.8 1062.2 792.2 1062.9C793.6 1063.6 795.1 1059.3 796.5 1056.5C797.9 1053.7 799.4 1045.5 800.8 1045.8C802.2 1046.1 803.7 1059.3 805.1 1058.6C806.5 1057.9 807.5 1044.7 809.3 1041.5C811.1 1038.3 814.0 1041.1 815.8 1039.3C817.6 1037.5 818.3 1032.9 820.1 1030.8C821.9 1028.7 824.9 1029.9 826.5 1026.5C828.1 1023.1 828.5 1010.4 829.7 1010.4C831.0 1010.4 832.8 1026.2 834.0 1026.5C835.2 1026.8 836.1 1012.9 837.2 1012.5C838.3 1012.1 839.0 1024.3 840.4 1024.3C841.8 1024.3 844.5 1011.8 845.8 1012.5C847.1 1013.2 846.6 1026.4 848.0 1028.6C849.4 1030.8 852.6 1024.3 854.4 1025.4C856.2 1026.5 857.1 1033.5 858.7 1035.1C860.3 1036.7 862.9 1033.3 864.0 1035.1C865.1 1036.9 863.9 1042.9 865.1 1045.8C866.4 1048.7 869.4 1050.2 871.5 1052.2C873.6 1054.2 875.9 1056.2 878.0 1057.6C880.1 1059.0 882.3 1059.5 884.4 1060.8C886.5 1062.0 888.6 1063.8 890.8 1065.1C892.9 1066.3 895.7 1068.7 897.3 1068.3C898.9 1067.9 899.4 1062.4 900.5 1062.9C901.6 1063.4 902.5 1071.1 903.7 1071.5C905.0 1071.9 906.6 1064.9 908.0 1065.1C909.4 1065.3 910.9 1073.7 912.3 1072.6C913.6 1071.5 915.0 1057.7 916.1 1058.6C917.2 1059.5 917.2 1075.8 918.7 1077.9C920.2 1080.1 923.1 1073.5 925.2 1071.5C927.4 1069.5 929.9 1063.5 931.6 1066.2C933.3 1068.9 934.3 1086.7 935.4 1087.6C936.5 1088.5 936.5 1074.4 938.0 1071.5C939.5 1068.6 942.2 1069.3 944.5 1070.4C946.8 1071.5 949.9 1077.2 952.0 1077.9C954.1 1078.6 955.3 1077.2 957.3 1074.7C959.3 1072.2 962.0 1062.0 963.8 1062.9C965.6 1063.8 966.6 1079.0 968.0 1080.1C969.4 1081.2 970.7 1071.0 972.3 1069.4C973.9 1067.8 975.9 1072.2 977.7 1070.4C979.5 1068.6 981.5 1062.3 983.1 1058.6C984.7 1054.8 985.5 1051.1 987.3 1047.9C989.1 1044.7 992.0 1040.4 993.8 1039.3C995.6 1038.2 996.9 1044.0 998.1 1041.5C999.4 1039.0 1000.0 1029.0 1001.3 1024.3C1002.5 1019.6 1004.5 1018.1 1005.6 1013.6C1006.7 1009.1 1007.4 1000.2 1007.7 997.5" fill="none" stroke="#ff0000" stroke-width="10" stroke-linejoin="round" stroke-linecap="round"/>
<path d="M1151.9 983.0C1152.8 985.1 1155.2 993.7 1157.2 995.8C1159.2 997.9 1161.9 997.2 1163.7 995.8C1165.5 994.4 1166.8 989.7 1168.0 987.2C1169.2 984.7 1170.0 981.1 1171.2 980.8C1172.5 980.4 1173.5 983.0 1175.5 985.1C1177.5 987.2 1180.7 992.3 1183.0 993.7C1185.3 995.1 1187.4 993.2 1189.4 993.7C1191.4 994.2 1192.8 996.9 1194.8 996.9C1196.8 996.9 1199.2 993.7 1201.2 993.7C1203.2 993.7 1204.4 996.2 1206.6 996.9C1208.8 997.6 1212.1 996.0 1214.1 998.0C1216.1 1000.0 1216.8 1004.8 1218.4 1008.7C1220.0 1012.6 1221.6 1019.1 1223.7 1021.6C1225.8 1024.1 1229.2 1025.5 1231.2 1023.7C1233.2 1021.9 1233.9 1015.1 1235.5 1010.8C1237.1 1006.5 1239.3 997.6 1240.9 998.0C1242.5 998.4 1243.8 1007.6 1245.2 1013.0C1246.6 1018.4 1248.1 1025.1 1249.5 1030.1C1250.9 1035.1 1252.3 1040.3 1253.8 1043.0C1255.3 1045.7 1257.7 1045.7 1258.5 1046.2" fill="none" stroke="#ff0000" stroke-width="10" stroke-linejoin="round" stroke-linecap="round"/>
<path d="M1481.6 948.7C1482.4 950.9 1484.6 956.5 1486.3 961.6C1488.0 966.8 1489.8 974.9 1491.5 979.6C1493.2 984.3 1494.5 987.1 1496.6 989.9C1498.7 992.7 1501.7 996.3 1504.3 996.3C1506.9 996.3 1509.5 991.8 1512.1 989.9C1514.7 988.0 1517.7 984.4 1519.8 984.8C1521.9 985.2 1523.2 986.5 1524.9 992.5C1526.6 998.5 1528.4 1013.9 1530.1 1020.8C1531.8 1027.6 1533.3 1028.0 1535.2 1033.6C1537.1 1039.2 1539.4 1049.0 1541.6 1054.2C1543.8 1059.4 1546.2 1061.5 1548.1 1064.5C1550.0 1067.5 1550.6 1070.4 1553.2 1072.3C1555.8 1074.2 1560.5 1075.0 1563.5 1076.1C1566.5 1077.2 1568.4 1079.1 1571.2 1078.7C1574.0 1078.3 1576.8 1075.9 1580.2 1073.5C1583.6 1071.1 1588.2 1065.6 1591.8 1064.5C1595.4 1063.4 1598.4 1065.6 1602.1 1067.1C1605.8 1068.6 1609.8 1072.4 1613.7 1073.5C1617.6 1074.6 1622.1 1073.9 1625.3 1073.5C1628.5 1073.1 1630.7 1072.3 1633.0 1071.0C1635.3 1069.7 1637.2 1065.8 1639.4 1065.8C1641.6 1065.8 1643.5 1071.0 1645.9 1071.0C1648.3 1071.0 1651.0 1068.0 1653.6 1065.8C1656.2 1063.6 1658.9 1059.2 1661.3 1058.1C1663.7 1057.0 1665.5 1061.3 1667.7 1059.4C1669.9 1057.5 1672.1 1050.4 1674.2 1046.5C1676.3 1042.6 1678.7 1040.9 1680.6 1036.2C1682.5 1031.5 1684.0 1023.1 1685.7 1018.2C1687.4 1013.3 1689.0 1009.2 1690.9 1006.6C1692.8 1004.0 1695.2 1003.9 1697.3 1002.8C1699.4 1001.7 1701.9 999.4 1703.8 1000.2C1705.7 1001.1 1706.8 1007.5 1708.9 1007.9C1711.0 1008.3 1714.4 1006.6 1716.6 1002.8C1718.8 998.9 1720.1 990.8 1721.8 984.8C1723.5 978.8 1725.4 971.9 1726.9 966.7C1728.4 961.6 1729.3 956.0 1730.8 953.9C1732.3 951.8 1734.2 951.8 1735.9 953.9C1737.6 956.0 1739.6 962.6 1741.1 966.7C1742.6 970.8 1743.0 976.6 1744.9 978.3C1746.8 980.0 1750.2 978.3 1752.6 977.0C1755.0 975.7 1757.4 973.6 1759.1 970.6C1760.8 967.6 1761.3 961.8 1763.0 959.0C1764.7 956.2 1767.9 956.5 1769.4 953.9C1770.9 951.3 1770.9 946.2 1772.0 943.6C1773.1 941.0 1775.0 941.0 1775.8 938.4C1776.6 935.8 1775.6 930.9 1777.1 928.1C1778.6 925.3 1782.6 921.3 1784.8 921.7C1787.0 922.1 1789.1 929.2 1790.0 930.7" fill="none" stroke="#ff0000" stroke-width="10" stroke-linejoin="round" stroke-linecap="round"/>
<path d="M746.1 1319.4C747.0 1318.0 749.4 1311.2 751.4 1310.8C753.4 1310.4 755.8 1317.3 757.9 1317.3C760.0 1317.3 762.2 1314.2 764.3 1310.8C766.4 1307.4 768.7 1298.2 770.7 1296.9C772.7 1295.7 774.3 1304.2 776.1 1303.3C777.9 1302.4 779.7 1292.6 781.5 1291.5C783.3 1290.4 785.2 1298.3 786.8 1296.9C788.4 1295.5 789.5 1284.9 791.1 1282.9C792.7 1280.9 794.9 1287.6 796.5 1285.1C798.1 1282.6 799.4 1269.0 800.8 1267.9C802.2 1266.8 803.7 1280.4 805.1 1278.6C806.5 1276.8 807.7 1262.2 809.3 1257.2C810.9 1252.2 812.9 1251.8 814.7 1248.6C816.5 1245.4 818.3 1239.7 820.1 1237.9C821.9 1236.1 824.0 1239.9 825.4 1237.9C826.8 1235.9 827.0 1228.6 828.6 1226.1C830.2 1223.6 833.3 1221.5 835.1 1222.9C836.9 1224.3 837.6 1235.1 839.4 1234.7C841.2 1234.3 844.2 1219.8 845.8 1220.7C847.4 1221.6 847.6 1237.3 849.0 1240.0C850.4 1242.7 852.8 1237.1 854.4 1236.8C856.0 1236.5 857.1 1236.7 858.7 1237.9C860.3 1239.2 862.8 1241.1 864.0 1244.3C865.2 1247.5 865.0 1255.6 866.2 1257.2C867.5 1258.8 869.5 1253.7 871.5 1254.0C873.5 1254.3 875.9 1259.1 878.0 1259.3C880.1 1259.5 881.9 1255.4 884.4 1255.1C886.9 1254.8 890.5 1258.1 893.0 1257.2C895.5 1256.3 897.3 1250.6 899.4 1249.7C901.5 1248.8 903.6 1252.0 905.8 1251.8C907.9 1251.6 910.5 1249.5 912.3 1248.6C914.1 1247.7 915.7 1242.9 916.6 1246.5C917.5 1250.1 916.9 1269.6 917.6 1270.1C918.3 1270.6 918.9 1253.3 920.9 1249.7C922.9 1246.1 927.3 1245.2 929.4 1248.6C931.5 1252.0 932.4 1268.7 933.7 1270.1C935.0 1271.5 935.8 1257.9 937.0 1257.2C938.2 1256.5 939.6 1263.7 941.2 1265.8C942.8 1267.9 945.0 1268.3 946.6 1270.1C948.2 1271.9 949.8 1273.7 950.9 1276.5C952.0 1279.3 951.8 1286.5 953.0 1287.2C954.2 1287.9 956.6 1282.9 958.4 1280.8C960.2 1278.7 962.4 1271.9 963.8 1274.4C965.2 1276.9 965.6 1294.0 967.0 1295.8C968.4 1297.6 970.7 1286.0 972.3 1285.1C973.9 1284.2 975.5 1291.1 976.6 1290.4C977.7 1289.7 977.5 1283.8 978.8 1280.8C980.0 1277.8 982.7 1274.0 984.1 1272.2C985.5 1270.4 986.0 1271.2 987.4 1270.1C988.8 1269.0 991.5 1267.6 992.7 1265.8C994.0 1264.0 993.6 1261.1 994.9 1259.3C996.1 1257.5 999.1 1257.6 1000.2 1255.1C1001.3 1252.6 1000.2 1247.5 1001.3 1244.3C1002.4 1241.1 1005.5 1238.5 1006.6 1235.8C1007.7 1233.1 1007.5 1229.5 1007.7 1228.3" fill="none" stroke="#000" stroke-width="10" stroke-linejoin="round" stroke-linecap="round"/>
<path d="M1151.9 1213.0C1153.0 1214.1 1156.3 1216.9 1158.3 1219.4C1160.3 1221.9 1162.1 1227.3 1163.7 1228.0C1165.3 1228.7 1166.8 1226.6 1168.0 1223.7C1169.2 1220.8 1170.1 1211.5 1171.2 1210.8C1172.3 1210.1 1173.3 1215.1 1174.4 1219.4C1175.5 1223.7 1176.2 1231.5 1177.6 1236.5C1179.0 1241.5 1181.0 1246.9 1183.0 1249.4C1185.0 1251.9 1187.6 1250.2 1189.4 1251.6C1191.2 1253.0 1192.1 1258.0 1193.7 1258.0C1195.3 1258.0 1197.3 1250.5 1199.1 1251.6C1200.9 1252.7 1202.1 1262.3 1204.4 1264.4C1206.7 1266.5 1210.8 1262.6 1213.0 1264.4C1215.2 1266.2 1215.7 1270.6 1217.3 1275.2C1218.9 1279.8 1220.7 1288.7 1222.7 1292.3C1224.7 1295.9 1227.1 1297.7 1229.1 1296.6C1231.1 1295.5 1233.2 1290.2 1234.5 1285.9C1235.8 1281.6 1235.5 1274.1 1236.6 1270.9C1237.7 1267.7 1239.5 1265.2 1240.9 1266.6C1242.3 1268.0 1243.4 1275.1 1245.2 1279.4C1247.0 1283.7 1249.6 1289.8 1251.6 1292.3C1253.6 1294.8 1256.1 1294.1 1257.0 1294.5" fill="none" stroke="#000" stroke-width="10" stroke-linejoin="round" stroke-linecap="round"/>
<path d="M1480.5 1230.5C1481.7 1231.4 1485.7 1233.2 1487.6 1235.9C1489.5 1238.6 1490.3 1243.0 1492.1 1246.6C1493.9 1250.2 1496.2 1254.6 1498.4 1257.3C1500.6 1260.0 1503.1 1262.7 1505.5 1262.7C1507.9 1262.7 1510.3 1258.0 1512.7 1257.3C1515.1 1256.5 1517.9 1257.0 1519.8 1258.2C1521.7 1259.4 1523.1 1262.0 1524.3 1264.5C1525.5 1267.0 1525.4 1270.4 1527.0 1273.4C1528.6 1276.4 1532.2 1279.0 1534.1 1282.3C1536.0 1285.6 1536.8 1290.4 1538.6 1293.1C1540.4 1295.8 1542.7 1296.8 1544.8 1298.4C1546.9 1300.1 1549.2 1301.9 1551.2 1303.0C1553.2 1304.1 1554.9 1303.4 1556.7 1304.9C1558.5 1306.5 1560.1 1310.9 1562.3 1312.3C1564.5 1313.7 1567.1 1312.1 1569.7 1313.2C1572.3 1314.3 1575.8 1319.4 1578.1 1318.8C1580.4 1318.2 1582.0 1310.4 1583.7 1309.5C1585.4 1308.6 1586.5 1311.7 1588.3 1313.2C1590.1 1314.8 1592.6 1318.5 1594.8 1318.8C1597.0 1319.1 1599.4 1316.3 1601.3 1315.1C1603.2 1313.9 1604.5 1310.9 1606.0 1311.4C1607.5 1311.9 1609.0 1317.9 1610.6 1317.9C1612.1 1317.9 1613.4 1312.0 1615.3 1311.4C1617.2 1310.8 1619.5 1313.9 1621.8 1314.2C1624.1 1314.5 1626.7 1313.1 1629.2 1313.2C1631.7 1313.3 1634.4 1316.5 1636.6 1315.1C1638.8 1313.7 1640.5 1307.4 1642.2 1304.9C1643.9 1302.4 1645.0 1302.1 1646.9 1300.2C1648.8 1298.3 1651.4 1295.7 1653.4 1293.7C1655.4 1291.7 1656.7 1289.3 1658.9 1288.1C1661.1 1286.9 1664.4 1285.7 1666.4 1286.3C1668.4 1286.9 1669.6 1293.5 1671.0 1291.9C1672.4 1290.4 1673.2 1279.8 1674.7 1277.0C1676.2 1274.2 1678.6 1277.0 1680.3 1275.1C1682.0 1273.2 1683.3 1268.1 1685.0 1265.8C1686.7 1263.5 1688.3 1261.2 1690.5 1261.2C1692.7 1261.2 1695.8 1265.2 1698.0 1265.8C1700.2 1266.4 1701.7 1264.3 1703.5 1264.9C1705.3 1265.5 1707.5 1271.0 1709.1 1269.6C1710.6 1268.2 1711.4 1259.3 1712.8 1256.5C1714.2 1253.7 1716.4 1255.6 1717.5 1252.8C1718.6 1250.0 1718.4 1244.1 1719.3 1239.8C1720.2 1235.5 1721.6 1229.6 1723.0 1226.8C1724.4 1224.0 1726.5 1227.8 1727.7 1223.1C1729.0 1218.4 1729.6 1203.6 1730.5 1198.9C1731.4 1194.2 1732.4 1194.6 1733.3 1195.2C1734.2 1195.8 1735.3 1199.0 1736.1 1202.7C1736.9 1206.4 1737.0 1214.1 1737.9 1217.5C1738.8 1220.9 1740.7 1219.7 1741.6 1223.1C1742.5 1226.5 1742.4 1235.0 1743.5 1238.0C1744.6 1241.0 1746.2 1239.2 1748.1 1240.8C1749.9 1242.3 1752.9 1247.5 1754.6 1247.3C1756.3 1247.1 1757.2 1242.9 1758.4 1239.8C1759.7 1236.7 1760.9 1232.1 1762.1 1228.7C1763.3 1225.3 1764.4 1222.8 1765.8 1219.4C1767.2 1216.0 1769.0 1211.9 1770.4 1208.2C1771.8 1204.5 1772.7 1200.5 1774.2 1197.1C1775.8 1193.7 1777.9 1189.0 1779.7 1187.8C1781.5 1186.5 1783.6 1186.2 1785.3 1189.6C1787.0 1193.0 1789.2 1205.1 1790.0 1208.2" fill="none" stroke="#000" stroke-width="10" stroke-linejoin="round" stroke-linecap="round"/>
</g>
<g fill="#000">
<rect x="155" y="21" width="1638" height="2"/>
<rect x="1790" y="21" width="3" height="1323"/>
<rect x="155" y="21" width="6" height="1323"/>
<rect x="155" y="1338" width="563" height="6"/>
<rect x="718" y="1340" width="24" height="3"/>
<rect x="742" y="1338" width="1051" height="6"/>
<rect x="130" y="115.0" width="26" height="6"/>
<rect x="143" y="55.0" width="13" height="6"/>
<rect x="130" y="235.0" width="26" height="6"/>
<rect x="143" y="175.0" width="13" height="6"/>
<rect x="130" y="355.0" width="26" height="6"/>
<rect x="143" y="295.0" width="13" height="6"/>
<rect x="130" y="475.0" width="26" height="6"/>
<rect x="143" y="415.0" width="13" height="6"/>
<rect x="130" y="595.0" width="26" height="6"/>
<rect x="143" y="535.0" width="13" height="6"/>
<rect x="130" y="715.0" width="26" height="6"/>
<rect x="143" y="655.0" width="13" height="6"/>
<rect x="130" y="835.0" width="26" height="6"/>
<rect x="143" y="775.0" width="13" height="6"/>
<rect x="130" y="955.0" width="26" height="6"/>
<rect x="143" y="895.0" width="13" height="6"/>
<rect x="130" y="1075.0" width="26" height="6"/>
<rect x="143" y="1015.0" width="13" height="6"/>
<rect x="130" y="1195.0" width="26" height="6"/>
<rect x="143" y="1135.0" width="13" height="6"/>
<rect x="130" y="1315.0" width="26" height="6"/>
<rect x="143" y="1255.0" width="13" height="6"/>
<rect x="211.0" y="1343" width="6" height="27"/>
<rect x="489.0" y="1343" width="6" height="27"/>
<rect x="877.0" y="1343" width="6" height="27"/>
<rect x="1059.0" y="1343" width="6" height="27"/>
<rect x="1242.0" y="1343" width="6" height="27"/>
<rect x="1424.0" y="1343" width="6" height="27"/>
<rect x="1606.0" y="1343" width="6" height="27"/>
<rect x="1787.5" y="1343" width="6" height="27"/>
<rect x="350.0" y="1343" width="6" height="14"/>
<rect x="628.0" y="1343" width="6" height="14"/>
<rect x="787.0" y="1343" width="6" height="14"/>
<rect x="968.0" y="1343" width="6" height="14"/>
<rect x="1151.0" y="1343" width="6" height="14"/>
<rect x="1333.0" y="1343" width="6" height="14"/>
<rect x="1515.0" y="1343" width="6" height="14"/>
<rect x="1697.0" y="1343" width="6" height="14"/>
</g>
<g stroke="#000" stroke-width="5.5" stroke-linecap="round">
<line x1="701" y1="1367" x2="730.5" y2="1315"/>
<line x1="729.5" y1="1367" x2="759" y2="1315"/>
</g>
<g font-size="51" text-anchor="middle">
<text x="214.0" y="1423">3500</text>
<text x="492.0" y="1423">3000</text>
<text x="880.0" y="1423">1600</text>
<text x="1062.0" y="1423">1400</text>
<text x="1245.0" y="1423">1200</text>
<text x="1427.0" y="1423">1000</text>
<text x="1609.0" y="1423">800</text>
<text x="1790.5" y="1423">600</text>
</g>
<text transform="translate(63,722.8) rotate(-90) scale(1,1.04)" text-anchor="middle" font-size="62.6">Absorbance (a.u.)</text>
<text x="700" y="1534" font-size="63">Wavenumber (cm<tspan font-size="37" dy="-34.5">-1</tspan><tspan dy="34.5">)</tspan></text>
<text transform="translate(1625.5,931) scale(1,1.05)" font-size="62.5">CNC</text>
<text transform="translate(1678,1165.5) scale(1,1.05)" font-size="62.5">BC</text>
<text class="cap" x="935" y="1652" font-size="84" text-anchor="middle">(<tspan font-weight="bold">a</tspan>)</text>
<g clip-path="url(#cb)">
<path d="M190.7 1960.0C191.4 1958.6 193.6 1955.3 195.0 1951.5C196.4 1947.7 197.4 1933.9 199.3 1937.2C201.2 1940.5 204.5 1969.1 206.4 1971.5C208.3 1973.9 208.8 1949.4 210.7 1951.5C212.6 1953.6 216.0 1981.5 217.9 1984.3C219.8 1987.1 220.3 1975.0 222.2 1968.6C224.1 1962.2 227.2 1948.8 229.3 1945.7C231.4 1942.6 233.1 1947.1 235.0 1950.0C236.9 1952.9 238.9 1967.4 240.8 1962.9C242.7 1958.4 244.8 1931.5 246.5 1922.9C248.2 1914.3 249.6 1907.1 250.8 1911.4C252.0 1915.7 251.7 1941.2 253.6 1948.6C255.5 1956.0 258.9 1954.4 262.2 1955.8C265.5 1957.2 270.3 1957.0 273.6 1957.2C276.9 1957.4 279.6 1961.2 282.2 1957.2C284.8 1953.2 287.0 1933.6 289.4 1932.9C291.8 1932.2 293.9 1951.2 296.5 1952.9C299.1 1954.6 302.5 1942.2 305.1 1942.9C307.7 1943.6 310.1 1958.6 312.2 1957.2C314.3 1955.8 315.6 1935.7 318.0 1934.3C320.4 1932.9 323.9 1949.1 326.5 1948.6C329.1 1948.1 331.3 1930.5 333.7 1931.5C336.1 1932.5 338.2 1949.1 340.8 1954.3C343.4 1959.5 346.5 1964.3 349.4 1962.9C352.3 1961.5 355.4 1948.3 358.0 1945.7C360.6 1943.1 363.0 1949.8 365.1 1947.2C367.2 1944.6 368.7 1928.8 370.8 1930.0C372.9 1931.2 375.4 1951.9 378.0 1954.3C380.6 1956.7 383.5 1942.6 386.6 1944.3C389.7 1946.0 393.8 1964.1 396.6 1964.3C399.5 1964.5 400.9 1949.3 403.7 1945.7C406.5 1942.1 409.9 1944.6 413.7 1942.9C417.5 1941.2 422.8 1935.7 426.6 1935.7C430.4 1935.7 433.5 1940.0 436.6 1942.9C439.7 1945.8 442.6 1955.3 445.2 1952.9C447.8 1950.5 450.1 1929.1 452.3 1928.6C454.5 1928.1 455.7 1947.2 458.1 1950.0C460.5 1952.8 463.5 1949.0 466.6 1945.7C469.7 1942.4 473.7 1931.4 476.6 1930.0C479.5 1928.6 481.2 1937.0 483.8 1937.2C486.4 1937.5 489.8 1934.8 492.4 1931.5C495.0 1928.2 496.6 1919.4 499.5 1917.2C502.4 1915.0 506.4 1914.3 509.5 1918.6C512.6 1922.9 515.0 1941.0 518.1 1942.9C521.2 1944.8 525.2 1929.5 528.1 1930.0C531.0 1930.5 532.7 1944.8 535.3 1945.7C537.9 1946.7 541.2 1935.0 543.8 1935.7C546.4 1936.4 548.4 1948.1 551.0 1950.0C553.6 1951.9 557.0 1947.2 559.6 1947.2C562.2 1947.2 564.1 1950.5 566.7 1950.0C569.3 1949.5 572.7 1946.2 575.0 1944.3C577.3 1942.4 578.6 1937.6 580.7 1938.6C582.9 1939.5 585.0 1950.0 587.9 1950.0C590.8 1950.0 595.0 1939.3 597.9 1938.6C600.8 1937.9 603.1 1945.6 605.0 1945.8C606.9 1946.0 606.9 1938.3 609.3 1940.0C611.7 1941.7 616.2 1954.6 619.3 1955.8C622.4 1957.0 624.6 1946.2 627.9 1947.2C631.2 1948.2 636.4 1962.0 639.3 1961.5C642.1 1961.0 642.6 1948.6 645.0 1944.3C647.4 1940.0 651.5 1935.8 653.6 1935.8C655.8 1935.8 655.8 1941.9 657.9 1944.3C660.0 1946.7 663.9 1947.4 666.5 1950.0C669.1 1952.6 670.7 1958.9 673.6 1960.1C676.5 1961.3 681.1 1959.8 683.7 1957.2C686.3 1954.6 687.0 1944.8 689.4 1944.3C691.8 1943.8 695.1 1953.8 698.0 1954.3C700.9 1954.8 703.4 1946.7 706.5 1947.2C709.6 1947.7 713.2 1957.0 716.5 1957.2C719.8 1957.4 723.4 1947.4 726.5 1948.6C729.6 1949.8 732.7 1963.1 735.1 1964.3C737.5 1965.5 738.9 1955.8 740.8 1955.8C742.7 1955.8 744.8 1964.1 746.5 1964.3C748.2 1964.5 748.9 1955.3 750.8 1957.2C752.7 1959.1 755.6 1975.3 758.0 1975.8C760.4 1976.3 762.7 1964.4 765.1 1960.1C767.5 1955.8 770.4 1950.7 772.3 1950.0C774.2 1949.3 774.9 1956.0 776.6 1955.8C778.3 1955.6 780.4 1947.6 782.3 1948.6C784.2 1949.5 785.4 1958.2 788.0 1961.5C790.6 1964.8 795.1 1967.2 798.0 1968.6C800.9 1970.0 802.3 1973.2 805.2 1970.1C808.1 1967.0 812.4 1951.4 815.2 1950.0C818.1 1948.6 819.7 1959.1 822.3 1961.5C824.9 1963.9 828.5 1965.2 830.9 1964.3C833.3 1963.3 834.2 1954.4 836.6 1955.8C839.0 1957.2 842.6 1970.8 845.2 1972.9C847.8 1975.0 849.9 1971.2 852.3 1968.6C854.7 1966.0 857.1 1959.8 859.5 1957.2C861.9 1954.6 864.0 1951.5 866.6 1952.9C869.2 1954.3 872.1 1965.8 875.2 1965.8C878.3 1965.8 882.3 1952.0 885.2 1952.9C888.1 1953.9 890.0 1969.6 892.4 1971.5C894.8 1973.4 896.6 1965.2 899.5 1964.3C902.4 1963.3 906.4 1967.9 909.5 1965.8C912.6 1963.7 914.8 1952.2 918.1 1951.5C921.4 1950.8 925.9 1961.8 929.5 1961.5C933.1 1961.2 935.9 1948.3 939.5 1950.0C943.1 1951.7 947.4 1968.4 951.0 1971.5C954.6 1974.6 957.8 1970.2 961.0 1968.6C964.2 1966.9 966.8 1962.5 970.0 1961.6C973.2 1960.7 977.6 1964.0 980.0 1963.0C982.4 1962.0 981.7 1956.4 984.3 1955.9C986.9 1955.4 992.8 1958.3 995.7 1960.2C998.6 1962.1 999.6 1964.7 1001.5 1967.3C1003.4 1969.9 1005.3 1976.6 1007.2 1975.9C1009.1 1975.2 1010.5 1964.7 1012.9 1963.0C1015.3 1961.3 1018.9 1966.9 1021.5 1965.9C1024.1 1965.0 1025.8 1956.6 1028.6 1957.3C1031.4 1958.0 1035.5 1969.0 1038.6 1970.2C1041.7 1971.4 1044.8 1966.9 1047.2 1964.5C1049.6 1962.1 1050.0 1956.4 1052.9 1955.9C1055.8 1955.4 1061.8 1962.1 1064.4 1961.6C1067.0 1961.1 1066.0 1953.7 1068.6 1953.0C1071.2 1952.3 1076.5 1954.0 1080.1 1957.3C1083.7 1960.6 1087.2 1973.0 1090.1 1973.0C1092.9 1973.0 1094.3 1959.7 1097.2 1957.3C1100.1 1954.9 1104.1 1957.8 1107.2 1958.7C1110.3 1959.7 1113.2 1963.2 1115.8 1963.0C1118.4 1962.8 1119.9 1956.8 1123.0 1957.3C1126.1 1957.8 1131.3 1966.1 1134.4 1965.9C1137.5 1965.7 1139.0 1957.3 1141.6 1955.9C1144.2 1954.5 1147.2 1956.1 1150.1 1957.3C1152.9 1958.5 1156.3 1964.4 1158.7 1963.0C1161.1 1961.6 1162.7 1950.8 1164.4 1948.7C1166.1 1946.6 1167.0 1947.8 1168.7 1950.2C1170.4 1952.6 1172.2 1961.3 1174.4 1963.0C1176.6 1964.7 1179.2 1959.7 1181.6 1960.2C1184.0 1960.7 1186.6 1966.4 1188.7 1965.9C1190.8 1965.4 1192.2 1958.0 1194.4 1957.3C1196.6 1956.6 1199.4 1962.5 1201.6 1961.6C1203.8 1960.6 1205.4 1950.9 1207.3 1951.6C1209.2 1952.3 1210.6 1963.8 1213.0 1965.9C1215.4 1968.1 1219.0 1965.7 1221.6 1964.5C1224.2 1963.3 1226.2 1960.9 1228.8 1958.7C1231.4 1956.5 1234.2 1950.6 1237.3 1951.6C1240.4 1952.6 1244.2 1962.8 1247.3 1964.5C1250.4 1966.2 1253.8 1964.2 1255.9 1961.6C1258.1 1959.0 1258.9 1952.5 1260.2 1948.7C1261.5 1944.9 1262.7 1939.7 1263.9 1938.7C1265.1 1937.8 1266.1 1939.4 1267.4 1943.0C1268.7 1946.6 1270.2 1957.6 1271.6 1960.2C1273.0 1962.8 1274.0 1961.1 1275.9 1958.7C1277.8 1956.3 1280.9 1947.1 1283.1 1945.9C1285.2 1944.7 1286.6 1952.5 1288.8 1951.6C1291.0 1950.6 1294.1 1945.5 1296.0 1940.2C1297.9 1935.0 1299.0 1926.3 1300.2 1920.1C1301.4 1913.9 1301.9 1908.2 1303.1 1903.0C1304.3 1897.8 1305.5 1892.0 1307.4 1888.7C1309.3 1885.4 1312.6 1885.9 1314.5 1883.0C1316.4 1880.1 1317.1 1876.3 1318.8 1871.5C1320.5 1866.7 1322.8 1859.6 1324.5 1854.4C1326.2 1849.2 1327.4 1844.9 1328.8 1840.1C1330.2 1835.3 1331.7 1828.4 1333.1 1825.8C1334.5 1823.2 1335.7 1823.5 1337.4 1824.4C1339.1 1825.4 1340.9 1830.5 1343.1 1831.5C1345.2 1832.5 1347.7 1831.5 1350.3 1830.1C1352.9 1828.7 1356.9 1825.2 1358.9 1822.9C1360.9 1820.6 1361.2 1819.8 1362.5 1816.0C1363.8 1812.2 1365.2 1807.3 1366.4 1800.4C1367.6 1793.5 1368.0 1780.6 1369.6 1774.7C1371.2 1768.8 1374.2 1765.5 1376.1 1765.0C1378.0 1764.5 1379.3 1765.1 1380.9 1771.5C1382.5 1777.9 1383.8 1794.5 1385.7 1803.6C1387.6 1812.7 1390.3 1818.6 1392.2 1826.1C1394.1 1833.6 1395.4 1841.7 1397.0 1848.7C1398.6 1855.7 1399.9 1862.7 1401.8 1868.0C1403.7 1873.3 1406.0 1877.0 1408.2 1880.8C1410.4 1884.5 1412.3 1887.0 1414.7 1890.5C1417.1 1894.0 1420.3 1902.2 1422.7 1901.7C1425.1 1901.2 1427.1 1893.5 1429.2 1887.3C1431.3 1881.1 1433.5 1870.1 1435.6 1864.7C1437.7 1859.3 1440.4 1860.4 1442.0 1855.1C1443.6 1849.8 1443.9 1844.4 1445.2 1832.6C1446.5 1820.8 1448.8 1796.1 1450.1 1784.3C1451.4 1772.5 1452.0 1766.9 1453.3 1761.8C1454.6 1756.7 1456.5 1753.8 1458.1 1753.8C1459.7 1753.8 1461.3 1755.1 1462.9 1761.8C1464.5 1768.5 1466.2 1783.8 1467.8 1794.0C1469.4 1804.2 1471.3 1813.8 1472.6 1822.9C1473.9 1832.0 1474.2 1841.7 1475.8 1848.7C1477.4 1855.7 1480.3 1859.4 1482.2 1864.7C1484.1 1870.0 1484.9 1876.5 1487.1 1880.8C1489.2 1885.1 1492.7 1886.8 1495.1 1890.5C1497.5 1894.2 1499.6 1899.8 1501.5 1903.3C1503.4 1906.8 1504.7 1911.1 1506.3 1911.4C1507.9 1911.7 1509.3 1904.9 1511.2 1904.9C1513.1 1904.9 1514.9 1910.1 1517.6 1911.4C1520.3 1912.8 1524.6 1912.5 1527.3 1913.0C1530.0 1913.5 1531.8 1915.7 1533.7 1914.6C1535.6 1913.5 1536.6 1906.6 1538.5 1906.6C1540.4 1906.6 1542.8 1912.5 1545.0 1914.6C1547.2 1916.7 1549.0 1919.7 1551.4 1919.4C1553.8 1919.1 1556.7 1916.0 1559.4 1913.0C1562.1 1910.0 1564.8 1903.6 1567.5 1901.7C1570.2 1899.8 1573.1 1899.3 1575.5 1901.7C1577.9 1904.1 1579.8 1911.9 1581.9 1916.2C1584.1 1920.5 1585.7 1926.7 1588.4 1927.5C1591.1 1928.3 1594.8 1921.0 1598.0 1921.0C1601.2 1921.0 1605.0 1925.6 1607.7 1927.5C1610.4 1929.4 1611.4 1931.5 1614.1 1932.3C1616.8 1933.1 1621.1 1931.0 1623.8 1932.3C1626.5 1933.6 1628.1 1937.3 1630.2 1940.3C1632.3 1943.2 1634.2 1950.0 1636.6 1950.0C1639.0 1950.0 1641.8 1941.6 1644.7 1940.3C1647.7 1939.0 1651.3 1940.3 1654.3 1941.9C1657.2 1943.5 1658.9 1948.4 1662.4 1950.0C1665.9 1951.6 1671.5 1953.2 1675.2 1951.6C1679.0 1950.0 1682.0 1940.0 1684.9 1940.3C1687.9 1940.6 1690.5 1951.8 1692.9 1953.2C1695.3 1954.6 1696.9 1947.6 1699.3 1948.4C1701.7 1949.2 1705.0 1956.7 1707.4 1958.0C1709.8 1959.3 1711.4 1957.7 1713.8 1956.4C1716.2 1955.1 1719.1 1950.3 1721.8 1950.0C1724.5 1949.7 1727.0 1953.2 1729.9 1954.8C1732.9 1956.4 1736.5 1958.8 1739.5 1959.6C1742.5 1960.4 1745.2 1960.7 1747.6 1959.6C1750.0 1958.5 1751.9 1952.4 1754.0 1953.2C1756.1 1954.0 1758.0 1964.2 1760.4 1964.5C1762.8 1964.8 1765.8 1957.5 1768.5 1954.8C1771.2 1952.1 1773.8 1948.7 1776.5 1948.4C1779.2 1948.1 1782.2 1953.5 1784.6 1953.2C1787.0 1952.9 1788.9 1946.3 1791.0 1946.8C1793.1 1947.3 1795.0 1955.6 1797.4 1956.4C1799.8 1957.2 1804.2 1952.4 1805.5 1951.6" fill="none" stroke="#008000" stroke-width="8" stroke-linejoin="round" stroke-linecap="round"/>
<path d="M189.3 2277.3C189.8 2279.2 190.4 2288.2 192.1 2288.7C193.8 2289.2 197.6 2279.5 199.3 2280.2C201.0 2280.9 200.5 2294.9 202.2 2293.0C203.9 2291.1 207.6 2269.4 209.3 2268.7C211.0 2268.0 210.8 2282.5 212.2 2288.7C213.6 2294.9 216.0 2305.9 217.9 2305.9C219.8 2305.9 221.9 2292.3 223.6 2288.7C225.3 2285.1 226.2 2284.6 227.9 2284.4C229.6 2284.2 231.2 2289.4 233.6 2287.3C236.0 2285.2 239.3 2277.6 242.2 2271.6C245.1 2265.6 248.9 2250.6 250.8 2251.6C252.7 2252.6 252.4 2269.7 253.6 2277.3C254.8 2284.9 256.2 2296.8 257.9 2297.3C259.6 2297.8 261.5 2283.3 263.6 2280.2C265.8 2277.1 268.7 2280.1 270.8 2278.7C272.9 2277.3 274.6 2271.1 276.5 2271.6C278.4 2272.1 280.1 2282.8 282.2 2281.6C284.3 2280.4 286.8 2263.4 289.4 2264.4C292.0 2265.4 294.8 2288.0 297.9 2287.3C301.0 2286.6 305.0 2262.7 307.9 2260.1C310.8 2257.5 312.7 2271.6 315.1 2271.6C317.5 2271.6 319.6 2261.0 322.2 2260.1C324.8 2259.2 327.2 2264.0 330.8 2265.9C334.4 2267.8 339.9 2272.3 343.7 2271.6C347.5 2270.9 350.8 2264.0 353.7 2261.6C356.6 2259.2 358.9 2256.8 360.8 2257.3C362.7 2257.8 363.4 2265.6 365.1 2264.4C366.8 2263.2 368.4 2249.8 370.8 2250.1C373.2 2250.3 376.8 2264.2 379.4 2265.9C382.0 2267.6 384.5 2260.8 386.6 2260.1C388.8 2259.4 390.4 2262.5 392.3 2261.6C394.2 2260.7 395.9 2254.7 398.0 2254.4C400.1 2254.2 402.6 2259.6 405.2 2260.1C407.8 2260.6 410.8 2259.4 413.7 2257.3C416.6 2255.2 419.0 2248.7 422.3 2247.3C425.6 2245.9 429.6 2249.6 433.7 2248.7C437.8 2247.8 443.0 2243.0 446.6 2241.6C450.2 2240.2 452.8 2241.8 455.2 2240.1C457.6 2238.4 458.3 2233.0 460.9 2231.6C463.5 2230.2 467.8 2232.6 470.9 2231.6C474.0 2230.6 476.1 2227.5 479.5 2225.8C482.9 2224.1 488.1 2223.4 491.0 2221.5C493.9 2219.6 494.6 2216.1 496.6 2214.4C498.6 2212.7 500.3 2210.8 502.9 2211.5C505.5 2212.2 509.6 2216.1 512.4 2218.7C515.2 2221.3 516.6 2226.6 519.5 2227.3C522.4 2228.0 526.6 2222.8 529.5 2223.0C532.4 2223.2 534.1 2228.5 536.7 2228.7C539.3 2228.9 542.0 2225.6 545.3 2224.4C548.6 2223.2 553.4 2222.7 556.7 2221.5C560.0 2220.3 562.2 2218.5 565.3 2217.3C568.4 2216.1 571.8 2214.7 575.3 2214.4C578.8 2214.2 583.3 2216.0 586.4 2215.8C589.5 2215.6 591.2 2212.8 593.6 2213.0C596.0 2213.2 598.8 2217.8 600.7 2217.3C602.6 2216.8 602.9 2210.3 605.0 2210.1C607.1 2209.8 611.0 2215.6 613.6 2215.8C616.2 2216.0 618.1 2212.4 620.7 2211.5C623.3 2210.6 625.7 2211.3 629.3 2210.1C632.9 2208.9 639.3 2204.4 642.2 2204.4C645.1 2204.4 644.1 2209.4 646.5 2210.1C648.9 2210.8 654.1 2209.9 656.5 2208.7C658.9 2207.5 658.6 2203.9 660.8 2203.0C662.9 2202.1 666.5 2204.0 669.4 2203.0C672.2 2202.0 674.6 2198.6 677.9 2197.2C681.2 2195.8 686.5 2193.9 689.4 2194.4C692.3 2194.9 692.5 2198.9 695.1 2200.1C697.7 2201.3 702.5 2201.7 705.1 2201.5C707.7 2201.3 708.4 2197.5 710.8 2198.7C713.2 2199.9 716.3 2206.3 719.4 2208.7C722.5 2211.1 726.8 2211.8 729.4 2213.0C732.0 2214.2 733.0 2216.5 735.1 2215.8C737.2 2215.1 739.9 2208.7 742.3 2208.7C744.7 2208.7 746.5 2215.8 749.4 2215.8C752.2 2215.8 756.3 2208.2 759.4 2208.7C762.5 2209.2 764.9 2218.2 768.0 2218.7C771.1 2219.2 774.9 2211.5 778.0 2211.5C781.1 2211.5 784.0 2218.2 786.6 2218.7C789.2 2219.2 791.1 2215.1 793.7 2214.4C796.3 2213.7 799.4 2212.7 802.3 2214.4C805.2 2216.1 807.8 2222.5 810.9 2224.4C814.0 2226.3 817.8 2225.3 820.9 2225.8C824.0 2226.3 826.9 2226.3 829.5 2227.3C832.1 2228.3 834.0 2231.6 836.6 2231.6C839.2 2231.6 842.6 2226.4 845.2 2227.3C847.8 2228.2 850.1 2234.7 852.3 2237.3C854.4 2239.9 855.2 2242.3 858.1 2243.0C861.0 2243.7 866.2 2240.9 869.5 2241.6C872.8 2242.3 875.5 2245.9 878.1 2247.3C880.7 2248.7 882.8 2250.3 885.2 2250.1C887.6 2249.8 889.3 2246.0 892.4 2245.8C895.5 2245.6 900.0 2246.8 903.8 2248.7C907.6 2250.6 912.1 2256.4 915.2 2257.3C918.3 2258.2 919.8 2254.4 922.4 2254.4C925.0 2254.4 928.1 2256.1 931.0 2257.3C933.9 2258.5 936.4 2260.7 939.5 2261.6C942.6 2262.5 947.0 2263.5 949.6 2263.0C952.2 2262.5 952.9 2258.5 955.3 2258.7C957.7 2258.9 961.2 2262.7 963.8 2264.4C966.4 2266.1 968.8 2268.4 971.0 2268.7C973.2 2268.9 974.9 2265.4 977.1 2265.9C979.3 2266.4 981.7 2270.9 984.3 2271.6C986.9 2272.3 990.5 2270.0 992.9 2270.2C995.3 2270.4 996.5 2273.3 998.6 2273.0C1000.7 2272.7 1003.6 2268.7 1005.7 2268.2C1007.9 2267.7 1009.4 2268.9 1011.5 2270.2C1013.6 2271.5 1015.8 2274.2 1018.6 2275.9C1021.5 2277.6 1025.3 2279.2 1028.6 2280.2C1031.9 2281.1 1036.0 2281.6 1038.6 2281.6C1041.2 2281.6 1042.1 2279.7 1044.3 2280.2C1046.5 2280.7 1049.1 2284.3 1051.5 2284.5C1053.9 2284.7 1056.4 2282.1 1058.6 2281.6C1060.8 2281.1 1062.5 2281.1 1064.4 2281.6C1066.3 2282.1 1067.7 2284.0 1070.1 2284.5C1072.5 2285.0 1075.3 2284.3 1078.6 2284.5C1081.9 2284.7 1087.0 2286.4 1090.1 2285.9C1093.2 2285.4 1094.8 2280.9 1097.2 2281.6C1099.6 2282.3 1101.8 2288.8 1104.4 2290.2C1107.0 2291.6 1110.2 2289.7 1113.0 2290.2C1115.8 2290.7 1118.4 2293.8 1121.5 2293.1C1124.6 2292.4 1128.2 2286.9 1131.5 2285.9C1134.8 2284.9 1138.7 2286.6 1141.6 2287.3C1144.5 2288.0 1146.3 2289.5 1148.7 2290.2C1151.1 2290.9 1153.2 2290.6 1155.8 2291.6C1158.4 2292.6 1161.8 2296.4 1164.4 2295.9C1167.0 2295.4 1169.0 2289.3 1171.6 2288.8C1174.2 2288.3 1177.5 2292.4 1180.1 2293.1C1182.7 2293.8 1184.9 2292.6 1187.3 2293.1C1189.7 2293.6 1192.0 2295.9 1194.4 2295.9C1196.8 2295.9 1199.0 2293.1 1201.6 2293.1C1204.2 2293.1 1207.3 2295.4 1210.2 2295.9C1213.1 2296.4 1215.7 2295.9 1218.8 2295.9C1221.9 2295.9 1225.9 2296.6 1228.8 2295.9C1231.7 2295.2 1233.1 2291.3 1235.9 2291.6C1238.8 2291.8 1243.0 2297.2 1245.9 2297.4C1248.8 2297.7 1250.7 2294.1 1253.1 2293.1C1255.5 2292.1 1258.1 2291.6 1260.2 2291.6C1262.3 2291.6 1264.2 2293.3 1265.9 2293.1C1267.6 2292.9 1267.8 2290.4 1270.2 2290.2C1272.6 2289.9 1277.6 2292.3 1280.2 2291.6C1282.8 2290.9 1284.0 2288.0 1285.9 2285.9C1287.8 2283.8 1289.8 2281.0 1291.7 2278.8C1293.6 2276.7 1295.7 2276.6 1297.4 2273.0C1299.1 2269.4 1300.5 2262.3 1301.7 2257.3C1302.9 2252.3 1303.5 2248.2 1304.5 2243.0C1305.5 2237.8 1306.2 2230.4 1307.4 2225.9C1308.6 2221.4 1310.0 2218.3 1311.7 2215.9C1313.4 2213.5 1315.5 2212.3 1317.4 2211.6C1319.3 2210.9 1321.4 2214.0 1323.1 2211.6C1324.8 2209.2 1326.2 2203.0 1327.4 2197.3C1328.6 2191.6 1329.1 2182.8 1330.3 2177.3C1331.5 2171.8 1333.1 2167.0 1334.5 2164.4C1335.9 2161.8 1337.1 2160.3 1338.8 2161.5C1340.5 2162.7 1342.4 2168.7 1344.6 2171.6C1346.8 2174.5 1349.3 2178.5 1351.7 2178.7C1354.1 2178.9 1357.1 2175.1 1358.9 2173.0C1360.7 2170.9 1361.2 2169.2 1362.5 2166.0C1363.8 2162.8 1364.9 2161.6 1366.4 2153.7C1367.9 2145.8 1369.6 2125.8 1371.3 2118.3C1373.0 2110.8 1375.1 2109.2 1376.7 2108.7C1378.3 2108.2 1379.4 2109.2 1380.9 2115.1C1382.4 2121.0 1383.8 2136.0 1385.7 2144.0C1387.6 2152.0 1390.3 2155.2 1392.2 2163.3C1394.1 2171.4 1395.4 2183.2 1397.0 2192.3C1398.6 2201.4 1399.4 2211.0 1401.8 2218.0C1404.2 2225.0 1408.5 2230.6 1411.5 2234.1C1414.5 2237.6 1416.5 2239.4 1419.5 2238.9C1422.5 2238.4 1426.2 2235.5 1429.2 2230.9C1432.2 2226.3 1434.8 2218.6 1437.2 2211.6C1439.6 2204.6 1441.7 2198.2 1443.6 2189.1C1445.5 2180.0 1446.9 2168.7 1448.5 2156.9C1450.1 2145.1 1451.7 2127.2 1453.3 2118.3C1454.9 2109.5 1456.5 2105.1 1458.1 2103.8C1459.7 2102.5 1461.3 2105.7 1462.9 2110.3C1464.5 2114.9 1466.2 2121.8 1467.8 2131.2C1469.4 2140.6 1471.0 2155.3 1472.6 2166.6C1474.2 2177.8 1475.5 2189.9 1477.4 2198.7C1479.3 2207.5 1481.4 2214.2 1483.8 2219.6C1486.2 2225.0 1489.0 2227.9 1491.9 2230.9C1494.9 2233.9 1498.3 2236.5 1501.5 2237.3C1504.7 2238.1 1508.0 2234.6 1511.2 2235.7C1514.4 2236.8 1517.8 2242.2 1520.8 2243.8C1523.8 2245.4 1526.2 2244.3 1528.9 2245.4C1531.6 2246.5 1533.7 2249.1 1536.9 2250.2C1540.1 2251.3 1544.7 2252.6 1548.2 2251.8C1551.7 2251.0 1554.3 2247.4 1557.8 2245.4C1561.3 2243.4 1565.9 2240.2 1569.1 2239.9C1572.3 2239.6 1574.5 2240.8 1577.1 2243.8C1579.7 2246.8 1582.2 2253.5 1584.9 2257.9C1587.6 2262.3 1590.5 2268.5 1593.2 2270.3C1596.0 2272.1 1599.0 2268.2 1601.4 2268.6C1603.9 2269.0 1605.2 2271.0 1607.9 2272.7C1610.6 2274.3 1615.0 2277.3 1617.8 2278.5C1620.5 2279.7 1621.9 2278.3 1624.4 2280.1C1626.9 2281.9 1629.9 2288.0 1632.6 2289.2C1635.3 2290.4 1637.8 2286.8 1640.8 2287.5C1643.8 2288.2 1647.1 2292.5 1650.7 2293.3C1654.3 2294.1 1658.6 2291.9 1662.2 2292.5C1665.8 2293.1 1669.1 2295.2 1672.1 2296.6C1675.1 2298.0 1677.0 2300.0 1680.3 2300.7C1683.6 2301.4 1688.8 2301.0 1691.8 2300.7C1694.8 2300.4 1695.9 2299.4 1698.4 2299.0C1700.9 2298.6 1703.9 2297.2 1706.6 2298.2C1709.3 2299.2 1711.8 2304.1 1714.8 2304.8C1717.8 2305.5 1721.4 2302.2 1724.7 2302.3C1728.0 2302.4 1731.5 2304.5 1734.5 2305.6C1737.5 2306.7 1739.7 2309.2 1742.7 2308.9C1745.7 2308.6 1749.3 2303.7 1752.6 2304.0C1755.9 2304.3 1759.8 2309.4 1762.5 2310.6C1765.2 2311.8 1766.6 2311.9 1769.1 2311.4C1771.6 2310.9 1774.6 2307.3 1777.3 2307.3C1780.0 2307.3 1782.8 2310.9 1785.5 2311.4C1788.2 2311.9 1790.8 2311.7 1793.7 2310.6C1796.6 2309.5 1800.7 2305.6 1802.8 2304.8C1804.9 2304.0 1805.9 2305.5 1806.5 2305.6" fill="none" stroke="#0000ff" stroke-width="8" stroke-linejoin="round" stroke-linecap="round"/>
<path d="M189.3 2611.6C190.0 2611.1 191.9 2610.8 193.6 2608.7C195.3 2606.5 197.6 2598.4 199.3 2598.7C201.0 2598.9 201.7 2611.1 203.6 2610.2C205.5 2609.2 208.3 2590.6 210.7 2593.0C213.1 2595.4 215.8 2621.9 217.9 2624.5C220.1 2627.1 221.7 2611.8 223.6 2608.7C225.5 2605.6 227.2 2605.9 229.3 2605.9C231.5 2605.9 233.9 2611.1 236.5 2608.7C239.1 2606.3 242.6 2595.2 245.0 2591.6C247.4 2588.0 248.9 2582.3 250.8 2587.3C252.7 2592.3 254.4 2618.5 256.5 2621.6C258.6 2624.7 261.5 2608.5 263.6 2605.9C265.7 2603.3 267.2 2608.1 269.3 2605.9C271.4 2603.8 274.1 2593.5 276.5 2593.0C278.9 2592.5 281.2 2603.5 283.6 2603.0C286.0 2602.5 288.2 2589.4 290.8 2590.1C293.4 2590.8 296.5 2606.8 299.4 2607.3C302.3 2607.8 305.4 2594.2 308.0 2593.0C310.6 2591.8 312.7 2600.4 315.1 2600.2C317.5 2600.0 320.1 2592.3 322.2 2591.6C324.3 2590.9 326.1 2596.4 328.0 2595.9C329.9 2595.4 330.8 2588.5 333.7 2588.7C336.6 2588.9 341.3 2597.3 345.1 2597.3C348.9 2597.3 353.5 2588.7 356.6 2588.7C359.7 2588.7 361.3 2598.7 363.7 2597.3C366.1 2595.9 368.4 2580.1 370.8 2580.1C373.2 2580.1 375.4 2596.3 378.0 2597.3C380.6 2598.3 383.3 2588.1 386.6 2585.9C389.9 2583.8 394.9 2583.2 398.0 2584.4C401.1 2585.6 402.8 2593.0 405.2 2593.0C407.6 2593.0 409.9 2585.1 412.3 2584.4C414.7 2583.7 417.4 2589.2 419.5 2588.7C421.6 2588.2 421.9 2583.5 425.2 2581.6C428.5 2579.7 435.0 2577.1 439.5 2577.3C444.0 2577.5 449.0 2583.5 452.3 2583.0C455.6 2582.5 456.2 2576.3 459.5 2574.4C462.8 2572.5 469.0 2573.3 472.3 2571.6C475.6 2569.9 476.1 2566.1 479.5 2564.4C482.9 2562.7 488.6 2563.7 492.4 2561.6C496.2 2559.5 499.3 2551.6 502.4 2551.6C505.5 2551.6 507.7 2558.3 511.0 2561.6C514.3 2564.9 518.6 2569.5 522.4 2571.6C526.2 2573.7 530.7 2574.4 533.8 2574.4C536.9 2574.4 538.9 2571.6 541.0 2571.6C543.1 2571.6 544.3 2574.4 546.7 2574.4C549.1 2574.4 552.9 2571.3 555.3 2571.6C557.7 2571.8 557.9 2576.9 561.0 2575.9C564.1 2574.9 570.3 2567.0 573.8 2565.8C577.3 2564.6 579.8 2567.2 582.1 2568.6C584.5 2570.0 585.8 2574.6 587.9 2574.4C590.0 2574.2 592.6 2567.4 595.0 2567.2C597.4 2566.9 600.1 2573.1 602.2 2572.9C604.4 2572.7 605.8 2566.3 607.9 2565.8C610.0 2565.3 611.9 2569.6 615.0 2570.1C618.1 2570.6 623.4 2569.3 626.5 2568.6C629.6 2567.9 630.8 2566.1 633.6 2565.8C636.5 2565.5 641.2 2565.8 643.6 2566.6C646.0 2567.4 645.5 2570.8 647.9 2570.9C650.3 2571.0 654.8 2568.5 657.9 2567.2C661.0 2565.9 663.6 2563.9 666.5 2562.9C669.4 2561.9 672.2 2561.4 675.1 2560.9C678.0 2560.4 681.3 2559.9 683.7 2560.1C686.1 2560.3 687.6 2560.6 689.4 2562.3C691.2 2564.0 692.6 2569.8 694.5 2570.1C696.4 2570.4 698.8 2565.0 700.8 2564.3C702.8 2563.6 704.6 2566.0 706.5 2565.8C708.4 2565.6 710.1 2562.4 712.2 2562.9C714.4 2563.4 717.0 2567.9 719.4 2568.6C721.8 2569.3 722.9 2566.8 726.5 2567.2C730.1 2567.6 737.2 2570.3 740.8 2570.9C744.4 2571.5 745.4 2571.8 748.0 2570.9C750.6 2570.1 753.3 2565.3 756.6 2565.8C759.9 2566.3 764.7 2573.1 768.0 2573.8C771.3 2574.5 773.3 2570.2 776.6 2570.1C779.9 2569.9 784.7 2573.2 788.0 2572.9C791.3 2572.7 793.5 2569.3 796.6 2568.6C799.7 2567.9 803.8 2567.6 806.6 2568.6C809.5 2569.6 810.9 2573.2 813.7 2574.4C816.6 2575.6 821.1 2576.3 823.7 2575.8C826.3 2575.3 827.1 2571.0 829.5 2571.5C831.9 2572.0 835.1 2577.7 838.0 2578.6C840.9 2579.5 843.5 2576.7 846.6 2577.2C849.7 2577.7 853.3 2580.8 856.6 2581.5C859.9 2582.2 863.7 2581.7 866.6 2581.5C869.5 2581.3 870.9 2580.1 873.8 2580.1C876.7 2580.1 880.9 2581.8 883.8 2581.5C886.6 2581.2 888.5 2578.4 890.9 2578.6C893.3 2578.8 895.5 2582.2 898.1 2582.9C900.7 2583.6 904.1 2581.9 906.7 2582.9C909.3 2583.9 911.2 2588.4 913.8 2588.7C916.4 2588.9 919.3 2585.0 922.4 2584.4C925.5 2583.8 928.8 2584.5 932.4 2585.2C936.0 2585.9 939.0 2588.1 943.8 2588.7C948.6 2589.3 956.7 2588.2 961.0 2588.7C965.3 2589.2 966.9 2591.5 969.6 2591.5C972.3 2591.5 974.7 2588.8 977.1 2588.7C979.5 2588.6 981.9 2590.3 984.3 2591.0C986.7 2591.7 989.0 2592.2 991.4 2593.0C993.8 2593.8 996.0 2596.6 998.6 2595.9C1001.2 2595.2 1004.8 2589.4 1007.2 2588.7C1009.6 2588.0 1010.8 2589.9 1012.9 2591.6C1015.0 2593.3 1017.1 2597.6 1020.0 2598.7C1022.9 2599.8 1026.7 2597.9 1030.0 2597.9C1033.3 2597.9 1037.4 2599.2 1040.0 2598.7C1042.6 2598.2 1043.9 2594.8 1045.8 2595.0C1047.7 2595.2 1049.6 2599.6 1051.5 2599.6C1053.4 2599.6 1054.6 2595.0 1057.2 2595.0C1059.8 2595.0 1064.1 2599.3 1067.2 2599.6C1070.3 2599.9 1072.0 2596.7 1075.8 2596.7C1079.6 2596.7 1086.3 2599.7 1090.1 2599.6C1093.9 2599.5 1095.6 2595.9 1098.7 2596.2C1101.8 2596.5 1104.4 2600.5 1108.7 2601.6C1113.0 2602.7 1119.2 2603.8 1124.4 2603.0C1129.6 2602.2 1135.3 2597.3 1140.1 2596.7C1144.9 2596.1 1149.0 2598.6 1153.0 2599.6C1157.0 2600.6 1160.8 2602.8 1164.4 2602.4C1168.0 2602.0 1170.6 2598.1 1174.4 2597.3C1178.2 2596.6 1184.0 2597.1 1187.3 2597.9C1190.6 2598.8 1192.0 2602.5 1194.4 2602.4C1196.8 2602.3 1198.5 2597.4 1201.6 2597.3C1204.7 2597.2 1209.2 2601.1 1213.0 2601.6C1216.8 2602.1 1220.7 2601.3 1224.5 2600.2C1228.3 2599.1 1232.1 2594.9 1235.9 2595.0C1239.7 2595.1 1243.5 2600.7 1247.3 2600.7C1251.1 2600.7 1255.0 2596.1 1258.8 2595.0C1262.6 2593.9 1266.6 2594.5 1270.2 2594.4C1273.8 2594.3 1277.3 2595.6 1280.2 2594.4C1283.1 2593.2 1284.8 2590.6 1287.4 2587.3C1290.0 2584.0 1293.9 2578.5 1296.0 2574.4C1298.1 2570.3 1298.8 2568.7 1300.2 2563.0C1301.6 2557.3 1303.1 2547.2 1304.5 2540.1C1305.9 2532.9 1306.9 2524.6 1308.8 2520.1C1310.7 2515.6 1313.6 2514.7 1316.0 2513.0C1318.4 2511.3 1321.2 2513.2 1323.1 2510.1C1325.0 2507.0 1326.0 2500.8 1327.4 2494.4C1328.8 2488.0 1330.2 2477.0 1331.7 2471.5C1333.2 2466.0 1334.8 2462.7 1336.5 2461.5C1338.2 2460.3 1339.9 2462.6 1341.7 2464.3C1343.5 2466.0 1345.2 2469.8 1347.4 2471.5C1349.6 2473.2 1352.4 2474.6 1354.6 2474.4C1356.8 2474.2 1358.9 2472.2 1360.3 2470.1C1361.7 2468.0 1362.0 2464.9 1363.0 2462.0C1364.0 2459.1 1365.0 2460.1 1366.4 2452.6C1367.8 2445.1 1369.6 2425.0 1371.3 2417.2C1373.0 2409.4 1375.1 2406.7 1376.7 2405.9C1378.3 2405.1 1379.4 2406.2 1380.9 2412.4C1382.4 2418.6 1383.8 2433.5 1385.7 2442.9C1387.6 2452.3 1390.3 2459.6 1392.2 2468.7C1394.1 2477.8 1395.1 2488.8 1397.0 2497.6C1398.9 2506.4 1401.2 2515.8 1403.4 2521.7C1405.6 2527.6 1407.5 2530.3 1409.9 2533.0C1412.3 2535.7 1415.0 2537.8 1417.9 2537.8C1420.8 2537.8 1424.5 2535.9 1427.5 2533.0C1430.5 2530.1 1433.2 2526.5 1435.6 2520.1C1438.0 2513.7 1440.1 2504.6 1442.0 2494.4C1443.9 2484.2 1444.9 2471.9 1446.8 2459.0C1448.7 2446.1 1451.4 2426.0 1453.3 2417.2C1455.2 2408.3 1456.2 2405.6 1458.1 2405.9C1460.0 2406.2 1462.6 2412.1 1464.5 2418.8C1466.4 2425.5 1467.8 2435.1 1469.4 2446.1C1471.0 2457.1 1472.6 2473.4 1474.2 2484.7C1475.8 2496.0 1477.1 2506.2 1479.0 2513.7C1480.9 2521.2 1482.7 2525.2 1485.4 2529.8C1488.1 2534.4 1492.1 2537.9 1495.1 2541.0C1498.0 2544.1 1500.1 2547.5 1503.1 2548.4C1506.0 2549.3 1509.6 2545.6 1512.8 2546.5C1516.0 2547.4 1519.5 2552.4 1522.4 2553.9C1525.4 2555.4 1527.5 2554.2 1530.5 2555.5C1533.5 2556.8 1536.9 2561.2 1540.1 2561.9C1543.3 2562.6 1546.8 2561.0 1549.8 2559.4C1552.8 2557.8 1555.4 2553.8 1557.8 2552.3C1560.2 2550.9 1562.0 2552.0 1564.2 2550.7C1566.4 2549.3 1568.6 2543.9 1570.7 2544.2C1572.8 2544.5 1574.7 2548.8 1577.1 2552.3C1579.5 2555.8 1582.5 2560.9 1585.2 2565.2C1587.9 2569.5 1590.3 2575.9 1593.2 2578.0C1596.1 2580.1 1599.6 2578.3 1602.8 2578.0C1606.0 2577.7 1609.0 2575.6 1612.5 2576.4C1616.0 2577.2 1620.3 2580.1 1623.8 2582.8C1627.3 2585.5 1630.5 2591.2 1633.4 2592.5C1636.3 2593.8 1638.5 2590.2 1641.4 2590.9C1644.4 2591.6 1647.3 2596.0 1651.1 2596.7C1654.9 2597.3 1660.2 2594.2 1664.0 2594.8C1667.8 2595.4 1670.1 2599.4 1673.6 2600.5C1677.1 2601.6 1681.2 2601.2 1684.9 2601.2C1688.7 2601.2 1693.1 2600.0 1696.1 2600.5C1699.0 2601.0 1700.4 2604.4 1702.6 2604.4C1704.8 2604.4 1706.6 2600.3 1709.0 2600.5C1711.4 2600.7 1714.0 2605.1 1717.0 2605.4C1720.0 2605.7 1723.0 2601.9 1726.7 2602.1C1730.5 2602.2 1735.2 2605.8 1739.5 2606.3C1743.8 2606.9 1747.6 2605.0 1752.4 2605.4C1757.2 2605.8 1764.2 2608.4 1768.5 2608.6C1772.8 2608.8 1774.3 2606.0 1778.1 2606.3C1781.8 2606.6 1787.2 2610.3 1791.0 2610.2C1794.8 2610.0 1798.1 2606.2 1800.7 2605.4C1803.3 2604.6 1805.5 2605.4 1806.5 2605.4" fill="none" stroke="#ff0000" stroke-width="8" stroke-linejoin="round" stroke-linecap="round"/>
<path d="M189.3 2917.2C190.0 2917.9 192.2 2921.0 193.6 2921.5C195.0 2922.0 196.5 2918.2 197.9 2920.1C199.3 2922.0 200.3 2934.3 202.2 2932.9C204.1 2931.5 207.6 2913.2 209.3 2911.5C211.0 2909.8 210.8 2917.2 212.2 2922.9C213.6 2928.6 216.2 2944.9 217.9 2945.8C219.6 2946.8 220.5 2933.1 222.2 2928.6C223.9 2924.1 225.3 2919.5 227.9 2918.6C230.5 2917.7 235.1 2923.8 237.9 2922.9C240.8 2922.0 243.1 2914.6 245.0 2912.9C246.9 2911.2 247.9 2907.9 249.3 2912.9C250.7 2917.9 251.7 2941.0 253.6 2942.9C255.5 2944.8 258.4 2928.7 260.8 2924.4C263.2 2920.1 265.3 2919.1 267.9 2917.2C270.5 2915.3 273.9 2911.5 276.5 2912.9C279.1 2914.3 281.5 2925.8 283.6 2925.8C285.8 2925.8 287.2 2912.4 289.4 2912.9C291.5 2913.4 293.6 2929.3 296.5 2928.6C299.4 2927.9 303.6 2910.7 306.5 2908.6C309.4 2906.5 311.1 2915.1 313.7 2915.8C316.3 2916.5 319.6 2912.4 322.2 2912.9C324.8 2913.4 326.8 2916.9 329.4 2918.6C332.0 2920.3 335.4 2922.9 338.0 2922.9C340.6 2922.9 342.2 2920.5 345.1 2918.6C348.0 2916.7 352.0 2911.0 355.1 2911.5C358.2 2912.0 361.1 2922.2 363.7 2921.5C366.3 2920.8 368.4 2907.9 370.8 2907.2C373.2 2906.5 375.6 2916.5 378.0 2917.2C380.4 2917.9 382.0 2912.9 385.1 2911.5C388.2 2910.1 393.2 2908.1 396.6 2908.6C400.0 2909.1 402.8 2914.4 405.2 2914.4C407.6 2914.4 408.8 2908.6 410.9 2908.6C413.0 2908.6 415.4 2914.6 418.0 2914.4C420.6 2914.2 423.3 2908.6 426.6 2907.2C429.9 2905.8 434.9 2906.3 438.0 2905.8C441.1 2905.3 442.3 2903.8 445.2 2904.3C448.1 2904.8 452.1 2909.1 455.2 2908.6C458.3 2908.1 461.2 2903.2 463.8 2901.5C466.4 2899.8 468.5 2899.3 470.9 2898.6C473.3 2897.9 476.2 2896.5 478.1 2897.2C480.0 2897.9 480.5 2903.4 482.4 2902.9C484.3 2902.4 487.4 2896.7 489.5 2894.3C491.6 2891.9 493.0 2891.2 495.2 2888.6C497.4 2886.0 500.3 2878.4 502.9 2878.6C505.5 2878.8 508.5 2886.2 511.0 2890.0C513.5 2893.8 515.5 2898.6 518.1 2901.5C520.7 2904.4 524.1 2905.3 526.7 2907.2C529.3 2909.1 531.4 2913.1 533.8 2912.9C536.2 2912.7 538.4 2906.3 541.0 2905.8C543.6 2905.3 545.9 2909.4 549.5 2910.1C553.1 2910.8 558.4 2910.0 562.4 2910.1C566.4 2910.2 569.8 2910.3 573.8 2910.9C577.8 2911.5 583.1 2913.6 586.4 2913.5C589.7 2913.4 591.0 2910.1 593.6 2910.6C596.2 2911.1 599.1 2916.5 602.2 2916.3C605.3 2916.1 609.1 2909.8 612.2 2909.5C615.3 2909.2 617.6 2914.3 620.7 2914.3C623.8 2914.3 627.7 2909.0 630.8 2909.5C633.9 2910.0 636.2 2917.0 639.3 2917.2C642.4 2917.4 645.0 2911.1 649.3 2910.6C653.6 2910.1 659.4 2914.2 665.1 2914.3C670.8 2914.4 678.7 2911.0 683.7 2910.9C688.7 2910.8 689.4 2913.4 695.1 2913.5C700.8 2913.6 709.4 2911.8 718.0 2911.5C726.6 2911.2 737.1 2911.2 746.6 2911.5C756.1 2911.8 767.2 2912.9 775.1 2913.5C783.0 2914.1 788.9 2915.8 793.7 2915.2C798.5 2914.6 800.1 2909.8 803.7 2910.0C807.3 2910.2 811.9 2916.2 815.2 2916.3C818.5 2916.4 820.4 2911.9 823.7 2910.6C827.0 2909.3 831.4 2908.3 835.2 2908.6C839.0 2908.9 842.8 2911.8 846.6 2912.3C850.4 2912.8 854.8 2911.0 858.1 2911.5C861.4 2912.0 863.8 2915.5 866.6 2915.2C869.5 2914.9 871.4 2910.1 875.2 2909.5C879.0 2908.9 884.2 2911.9 889.5 2911.5C894.8 2911.1 900.7 2907.1 906.7 2907.2C912.7 2907.3 919.1 2911.7 925.3 2912.3C931.5 2912.9 939.5 2911.7 943.8 2910.6C948.1 2909.5 948.4 2905.7 951.0 2905.8C953.6 2906.0 956.4 2911.2 959.6 2911.5C962.8 2911.8 965.9 2907.4 970.0 2907.3C974.1 2907.2 978.6 2910.5 984.3 2911.0C990.0 2911.5 999.3 2911.0 1004.3 2910.1C1009.3 2909.2 1011.4 2905.7 1014.3 2905.8C1017.2 2905.9 1019.1 2910.4 1021.5 2910.7C1023.9 2910.9 1025.8 2907.2 1028.6 2907.3C1031.4 2907.5 1035.5 2911.1 1038.6 2911.6C1041.7 2912.1 1043.9 2909.9 1047.2 2910.1C1050.5 2910.3 1054.8 2913.0 1058.6 2913.0C1062.4 2913.0 1066.3 2910.3 1070.1 2910.1C1073.9 2909.9 1077.7 2911.8 1081.5 2911.6C1085.3 2911.4 1088.1 2908.5 1092.9 2908.7C1097.7 2908.9 1103.9 2913.2 1110.1 2913.0C1116.3 2912.8 1124.8 2907.5 1130.1 2907.3C1135.3 2907.2 1137.3 2911.8 1141.6 2912.1C1145.9 2912.4 1150.1 2909.9 1155.8 2909.3C1161.5 2908.7 1168.8 2908.8 1175.9 2908.7C1183.1 2908.6 1192.5 2908.5 1198.7 2908.7C1204.9 2908.9 1209.2 2910.6 1213.0 2910.1C1216.8 2909.6 1218.3 2906.1 1221.6 2905.8C1224.9 2905.5 1228.2 2907.8 1233.0 2908.1C1237.8 2908.3 1245.0 2908.2 1250.2 2907.3C1255.5 2906.4 1260.2 2903.4 1264.5 2902.4C1268.8 2901.4 1272.6 2902.6 1275.9 2901.5C1279.2 2900.4 1281.6 2898.4 1284.5 2895.8C1287.4 2893.2 1290.7 2889.9 1293.1 2885.8C1295.5 2881.8 1297.1 2876.7 1298.8 2871.5C1300.5 2866.3 1301.7 2861.1 1303.1 2854.4C1304.5 2847.7 1306.0 2838.4 1307.4 2831.5C1308.8 2824.6 1310.0 2816.5 1311.7 2812.9C1313.4 2809.3 1315.3 2811.2 1317.4 2810.0C1319.5 2808.8 1322.6 2809.9 1324.5 2805.8C1326.4 2801.8 1327.6 2792.4 1328.8 2785.7C1330.0 2779.0 1330.4 2770.4 1331.7 2765.7C1333.0 2760.9 1334.8 2756.7 1336.5 2757.2C1338.2 2757.7 1340.1 2765.3 1341.7 2768.6C1343.3 2771.9 1344.3 2775.3 1346.0 2777.2C1347.7 2779.1 1349.5 2780.5 1351.7 2780.0C1353.9 2779.5 1357.2 2776.8 1358.9 2774.3C1360.6 2771.8 1360.8 2768.9 1362.0 2765.0C1363.2 2761.1 1364.9 2759.6 1366.4 2750.8C1368.0 2742.0 1369.5 2723.0 1371.3 2712.2C1373.1 2701.4 1375.1 2686.0 1377.0 2686.0C1378.9 2686.0 1380.5 2702.5 1382.5 2712.2C1384.5 2721.9 1386.8 2732.5 1388.9 2744.3C1391.1 2756.1 1393.2 2770.6 1395.4 2782.9C1397.6 2795.2 1399.7 2809.2 1401.8 2818.3C1403.9 2827.4 1405.0 2833.1 1408.2 2837.6C1411.4 2842.1 1417.1 2845.6 1421.1 2845.6C1425.1 2845.6 1429.2 2842.7 1432.4 2837.6C1435.6 2832.5 1438.0 2825.3 1440.4 2815.1C1442.8 2804.9 1444.9 2789.9 1446.8 2776.5C1448.7 2763.1 1450.0 2746.0 1451.7 2734.7C1453.5 2723.4 1455.4 2711.2 1457.3 2708.5C1459.2 2705.8 1461.2 2712.6 1462.9 2718.6C1464.7 2724.6 1466.2 2733.6 1467.8 2744.3C1469.4 2755.0 1471.0 2770.6 1472.6 2782.9C1474.2 2795.2 1475.3 2807.6 1477.4 2818.3C1479.5 2829.0 1482.5 2840.6 1485.4 2847.3C1488.4 2854.0 1491.3 2855.6 1495.1 2858.5C1498.9 2861.4 1503.2 2863.0 1508.0 2864.9C1512.8 2866.8 1518.1 2868.0 1524.0 2869.8C1529.9 2871.6 1538.5 2876.1 1543.3 2875.6C1548.1 2875.1 1549.8 2868.9 1553.0 2866.6C1556.2 2864.3 1559.6 2863.6 1562.6 2861.7C1565.5 2859.8 1568.3 2855.3 1570.7 2855.3C1573.1 2855.3 1575.2 2858.5 1577.1 2861.7C1579.0 2864.9 1579.5 2870.8 1581.9 2874.6C1584.3 2878.3 1587.8 2881.2 1591.6 2884.2C1595.4 2887.1 1600.8 2890.7 1604.5 2892.3C1608.2 2893.9 1610.9 2892.8 1614.1 2893.9C1617.3 2895.0 1620.0 2897.5 1623.8 2898.7C1627.5 2899.9 1632.3 2901.1 1636.6 2901.3C1640.9 2901.5 1645.2 2899.7 1649.5 2899.7C1653.8 2899.7 1658.1 2900.4 1662.4 2901.3C1666.7 2902.2 1670.4 2904.8 1675.2 2905.2C1680.0 2905.6 1685.9 2902.7 1691.3 2903.5C1696.7 2904.3 1702.6 2909.3 1707.4 2910.0C1712.2 2910.7 1716.5 2907.9 1720.2 2907.7C1724.0 2907.5 1725.6 2908.6 1729.9 2909.0C1734.2 2909.4 1741.2 2909.3 1746.0 2910.0C1750.8 2910.7 1753.5 2913.0 1758.8 2913.2C1764.1 2913.3 1772.5 2911.2 1778.1 2910.9C1783.7 2910.6 1787.6 2911.4 1792.3 2911.1C1797.0 2910.8 1804.1 2909.3 1806.5 2909.0" fill="none" stroke="#000" stroke-width="8" stroke-linejoin="round" stroke-linecap="round"/>
</g>
<g fill="#000">
<rect x="186" y="1699" width="1622" height="2"/>
<rect x="1806" y="1699" width="2" height="1355"/>
<rect x="186" y="1699" width="6" height="1381"/>
<rect x="186" y="3048" width="1624" height="6"/>
<rect x="162" y="1697.0" width="25" height="6"/>
<rect x="162" y="2100.3" width="25" height="6"/>
<rect x="162" y="2503.7" width="25" height="6"/>
<rect x="162" y="2907.0" width="25" height="6"/>
<rect x="174" y="1898.7" width="13" height="6"/>
<rect x="174" y="2302.0" width="13" height="6"/>
<rect x="174" y="2705.4" width="13" height="6"/>
<rect x="186.0" y="3053" width="6" height="27"/>
<rect x="566.8" y="3053" width="6" height="27"/>
<rect x="947.5" y="3053" width="6" height="27"/>
<rect x="1328.3" y="3053" width="6" height="27"/>
<rect x="1709.0" y="3053" width="6" height="27"/>
<rect x="376.4" y="3053" width="6" height="13"/>
<rect x="757.1" y="3053" width="6" height="13"/>
<rect x="1137.9" y="3053" width="6" height="13"/>
<rect x="1518.6" y="3053" width="6" height="13"/>
</g>
<g font-size="51" text-anchor="middle">
<text x="189.0" y="3136">3600</text>
<text x="569.8" y="3136">3400</text>
<text x="950.5" y="3136">3200</text>
<text x="1331.3" y="3136">3000</text>
<text x="1712.0" y="3136">2800</text>
</g>
<text transform="translate(109,2416.8) rotate(-90) scale(1,1.04)" text-anchor="middle" font-size="64.1">Absorbance (a.u.)</text>
<text x="697" y="3244.5" font-size="62.5">Wavenumber (cm<tspan font-size="37" dy="-34.5">-1</tspan><tspan dy="34.5">)</tspan></text>
<text transform="translate(200.3,2048) scale(1,1.05)" font-size="62.2">PHB/2BC</text>
<text transform="translate(211.5,2383.5) scale(1,1.05)" font-size="62.2">PHB/4CNC</text>
<text transform="translate(199.6,2692.5) scale(1,1.05)" font-size="62.2">PHB/2CNC</text>
<text transform="translate(204.2,3002) scale(1,1.05)" font-size="62.5">PHB</text>
<text class="cap" x="882.5" y="3369" font-size="84">(<tspan font-weight="bold" font-size="88" dx="-2">b</tspan><tspan dx="1">)</tspan></text>
</svg></body></html>
